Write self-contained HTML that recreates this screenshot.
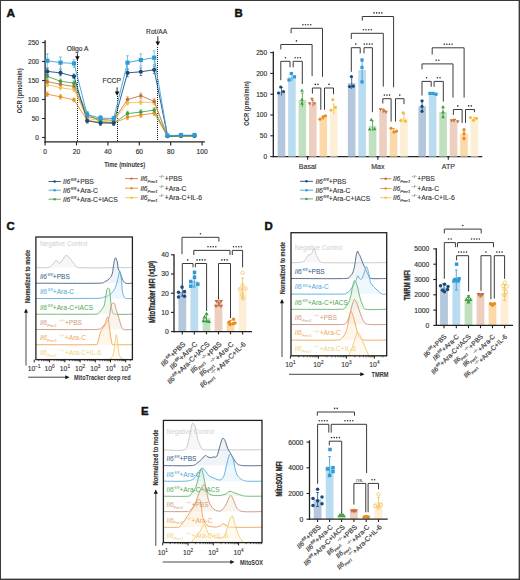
<!DOCTYPE html>
<html><head><meta charset="utf-8"><style>
html,body{margin:0;padding:0;background:#fff;}
body{width:520px;height:580px;position:relative;overflow:hidden;font-family:"Liberation Sans", sans-serif;}
</style></head><body>
<svg width="520" height="580" viewBox="0 0 520 580" style="position:absolute;left:0;top:0;font-family:'Liberation Sans', sans-serif"><rect x="0.00" y="0.00" width="520.00" height="580.00" fill="#ffffff"/><text x="6.50" y="16.80" font-size="11.8" text-anchor="start" fill="#111" font-weight="bold" font-style="normal" stroke="#111" stroke-width="0.45">A</text><text x="234.60" y="16.80" font-size="11.4" text-anchor="start" fill="#111" font-weight="bold" font-style="normal" stroke="#111" stroke-width="0.45">B</text><text x="6.40" y="230.30" font-size="11.4" text-anchor="start" fill="#111" font-weight="bold" font-style="normal" stroke="#111" stroke-width="0.45">C</text><text x="264.60" y="229.80" font-size="11.4" text-anchor="start" fill="#111" font-weight="bold" font-style="normal" stroke="#111" stroke-width="0.45">D</text><text x="141.00" y="414.50" font-size="11.4" text-anchor="start" fill="#111" font-weight="bold" font-style="normal" stroke="#111" stroke-width="0.45">E</text><line x1="45.10" y1="40.20" x2="45.10" y2="142.50" stroke="#222" stroke-width="1.3"/><line x1="44.50" y1="141.90" x2="204.80" y2="141.90" stroke="#222" stroke-width="1.3"/><line x1="42.10" y1="137.50" x2="45.10" y2="137.50" stroke="#222" stroke-width="1.1"/><text x="39.00" y="139.90" font-size="6.6" text-anchor="end" fill="#333" font-weight="normal" font-style="normal" stroke="#333" stroke-width="0.15">0</text><line x1="42.10" y1="118.50" x2="45.10" y2="118.50" stroke="#222" stroke-width="1.1"/><text x="39.00" y="120.90" font-size="6.6" text-anchor="end" fill="#333" font-weight="normal" font-style="normal" stroke="#333" stroke-width="0.15">50</text><line x1="42.10" y1="99.50" x2="45.10" y2="99.50" stroke="#222" stroke-width="1.1"/><text x="39.00" y="101.90" font-size="6.6" text-anchor="end" fill="#333" font-weight="normal" font-style="normal" stroke="#333" stroke-width="0.15">100</text><line x1="42.10" y1="80.50" x2="45.10" y2="80.50" stroke="#222" stroke-width="1.1"/><text x="39.00" y="82.90" font-size="6.6" text-anchor="end" fill="#333" font-weight="normal" font-style="normal" stroke="#333" stroke-width="0.15">150</text><line x1="42.10" y1="61.50" x2="45.10" y2="61.50" stroke="#222" stroke-width="1.1"/><text x="39.00" y="63.90" font-size="6.6" text-anchor="end" fill="#333" font-weight="normal" font-style="normal" stroke="#333" stroke-width="0.15">200</text><line x1="42.10" y1="42.50" x2="45.10" y2="42.50" stroke="#222" stroke-width="1.1"/><text x="39.00" y="44.90" font-size="6.6" text-anchor="end" fill="#333" font-weight="normal" font-style="normal" stroke="#333" stroke-width="0.15">250</text><line x1="45.10" y1="141.90" x2="45.10" y2="145.40" stroke="#222" stroke-width="1.1"/><text x="45.10" y="154.00" font-size="6.6" text-anchor="middle" fill="#333" font-weight="normal" font-style="normal" stroke="#333" stroke-width="0.15">0</text><line x1="76.50" y1="141.90" x2="76.50" y2="145.40" stroke="#222" stroke-width="1.1"/><text x="76.50" y="154.00" font-size="6.6" text-anchor="middle" fill="#333" font-weight="normal" font-style="normal" stroke="#333" stroke-width="0.15">20</text><line x1="107.90" y1="141.90" x2="107.90" y2="145.40" stroke="#222" stroke-width="1.1"/><text x="107.90" y="154.00" font-size="6.6" text-anchor="middle" fill="#333" font-weight="normal" font-style="normal" stroke="#333" stroke-width="0.15">40</text><line x1="139.30" y1="141.90" x2="139.30" y2="145.40" stroke="#222" stroke-width="1.1"/><text x="139.30" y="154.00" font-size="6.6" text-anchor="middle" fill="#333" font-weight="normal" font-style="normal" stroke="#333" stroke-width="0.15">60</text><line x1="170.70" y1="141.90" x2="170.70" y2="145.40" stroke="#222" stroke-width="1.1"/><text x="170.70" y="154.00" font-size="6.6" text-anchor="middle" fill="#333" font-weight="normal" font-style="normal" stroke="#333" stroke-width="0.15">80</text><line x1="202.10" y1="141.90" x2="202.10" y2="145.40" stroke="#222" stroke-width="1.1"/><text x="202.10" y="154.00" font-size="6.6" text-anchor="middle" fill="#333" font-weight="normal" font-style="normal" stroke="#333" stroke-width="0.15">100</text><text x="124.70" y="166.60" font-size="7.0" text-anchor="middle" fill="#333" font-weight="bold" font-style="normal" textLength="41" lengthAdjust="spacingAndGlyphs">Time (minutes)</text><text x="22.20" y="90.80" font-size="7.4" text-anchor="middle" fill="#333" font-weight="bold" font-style="normal" transform="rotate(-90 22.20 90.80)" textLength="45" lengthAdjust="spacingAndGlyphs">OCR (pmol/min)</text><path d="M77 60h1v1h-1zM77 62h1v1h-1zM77 64h1v1h-1zM77 66h1v1h-1zM77 68h1v1h-1zM77 70h1v1h-1zM77 72h1v1h-1zM77 74h1v1h-1zM77 76h1v1h-1zM77 78h1v1h-1zM77 80h1v1h-1zM77 82h1v1h-1zM77 84h1v1h-1zM77 86h1v1h-1zM77 88h1v1h-1zM77 90h1v1h-1zM77 92h1v1h-1zM77 94h1v1h-1zM77 96h1v1h-1zM77 98h1v1h-1zM77 100h1v1h-1zM77 102h1v1h-1zM77 104h1v1h-1zM77 106h1v1h-1zM77 108h1v1h-1zM77 110h1v1h-1zM77 112h1v1h-1zM77 114h1v1h-1zM77 116h1v1h-1zM77 118h1v1h-1zM77 120h1v1h-1zM77 122h1v1h-1zM77 124h1v1h-1zM77 126h1v1h-1zM77 128h1v1h-1zM77 130h1v1h-1zM77 132h1v1h-1zM77 134h1v1h-1zM77 136h1v1h-1zM77 138h1v1h-1zM77 140h1v1h-1z" fill="#1a1a1a"/><path d="M117 96h1v1h-1zM117 98h1v1h-1zM117 100h1v1h-1zM117 102h1v1h-1zM117 104h1v1h-1zM117 106h1v1h-1zM117 108h1v1h-1zM117 110h1v1h-1zM117 112h1v1h-1zM117 114h1v1h-1zM117 116h1v1h-1zM117 118h1v1h-1zM117 120h1v1h-1zM117 122h1v1h-1zM117 124h1v1h-1zM117 126h1v1h-1zM117 128h1v1h-1zM117 130h1v1h-1zM117 132h1v1h-1zM117 134h1v1h-1zM117 136h1v1h-1zM117 138h1v1h-1zM117 140h1v1h-1z" fill="#1a1a1a"/><path d="M157 47h1v1h-1zM157 49h1v1h-1zM157 51h1v1h-1zM157 53h1v1h-1zM157 55h1v1h-1zM157 57h1v1h-1zM157 59h1v1h-1zM157 61h1v1h-1zM157 63h1v1h-1zM157 65h1v1h-1zM157 67h1v1h-1zM157 69h1v1h-1zM157 71h1v1h-1zM157 73h1v1h-1zM157 75h1v1h-1zM157 77h1v1h-1zM157 79h1v1h-1zM157 81h1v1h-1zM157 83h1v1h-1zM157 85h1v1h-1zM157 87h1v1h-1zM157 89h1v1h-1zM157 91h1v1h-1zM157 93h1v1h-1zM157 95h1v1h-1zM157 97h1v1h-1zM157 99h1v1h-1zM157 101h1v1h-1zM157 103h1v1h-1zM157 105h1v1h-1zM157 107h1v1h-1zM157 109h1v1h-1zM157 111h1v1h-1zM157 113h1v1h-1zM157 115h1v1h-1zM157 117h1v1h-1zM157 119h1v1h-1zM157 121h1v1h-1zM157 123h1v1h-1zM157 125h1v1h-1zM157 127h1v1h-1zM157 129h1v1h-1zM157 131h1v1h-1zM157 133h1v1h-1zM157 135h1v1h-1zM157 137h1v1h-1zM157 139h1v1h-1z" fill="#1a1a1a"/><text x="77.60" y="51.40" font-size="7.0" text-anchor="middle" fill="#333" font-weight="normal" font-style="normal" textLength="21.5" lengthAdjust="spacingAndGlyphs" stroke="#333" stroke-width="0.15">Oligo A</text><line x1="77.40" y1="53.30" x2="77.40" y2="57.50" stroke="#111" stroke-width="0.9"/><path d="M75.10 56.30L79.70 56.30L77.40 60.50Z" fill="#111"/><text x="111.80" y="83.40" font-size="7.0" text-anchor="middle" fill="#333" font-weight="normal" font-style="normal" textLength="18.5" lengthAdjust="spacingAndGlyphs" stroke="#333" stroke-width="0.15">FCCP</text><line x1="117.10" y1="87.30" x2="117.10" y2="92.80" stroke="#111" stroke-width="0.9"/><path d="M114.80 91.60L119.40 91.60L117.10 95.80Z" fill="#111"/><text x="156.60" y="33.50" font-size="7.0" text-anchor="middle" fill="#333" font-weight="normal" font-style="normal" textLength="21" lengthAdjust="spacingAndGlyphs" stroke="#333" stroke-width="0.15">Rot/AA</text><line x1="157.80" y1="36.30" x2="157.80" y2="42.80" stroke="#111" stroke-width="0.9"/><path d="M155.50 41.60L160.10 41.60L157.80 45.80Z" fill="#111"/><path d="M45.90 91.90H48.70M47.30 91.90V96.46M45.90 96.46H48.70" stroke="#ec9428" stroke-width="0.8" fill="none" opacity="0.8"/><path d="M59.10 94.56H61.90M60.50 94.56V99.12M59.10 99.12H61.90" stroke="#ec9428" stroke-width="0.8" fill="none" opacity="0.8"/><path d="M72.60 97.98H75.40M74.00 97.98V101.78M72.60 101.78H75.40" stroke="#ec9428" stroke-width="0.8" fill="none" opacity="0.8"/><path d="M85.80 118.50H88.60M87.20 118.50V122.30M85.80 122.30H88.60" stroke="#ec9428" stroke-width="0.8" fill="none" opacity="0.8"/><path d="M99.10 120.40H101.90M100.50 120.40V124.20M99.10 124.20H101.90" stroke="#ec9428" stroke-width="0.8" fill="none" opacity="0.8"/><path d="M112.30 121.16H115.10M113.70 121.16V124.96M112.30 124.96H115.10" stroke="#ec9428" stroke-width="0.8" fill="none" opacity="0.8"/><path d="M126.10 115.08H128.90M127.50 115.08V119.64M126.10 119.64H128.90" stroke="#ec9428" stroke-width="0.8" fill="none" opacity="0.8"/><path d="M139.40 112.80H142.20M140.80 112.80V117.36M139.40 117.36H142.20" stroke="#ec9428" stroke-width="0.8" fill="none" opacity="0.8"/><path d="M152.80 110.90H155.60M154.20 110.90V115.46M152.80 115.46H155.60" stroke="#ec9428" stroke-width="0.8" fill="none" opacity="0.8"/><path d="M166.10 135.60H168.90M167.50 135.60V137.12M166.10 137.12H168.90" stroke="#ec9428" stroke-width="0.8" fill="none" opacity="0.8"/><path d="M179.60 135.60H182.40M181.00 135.60V137.12M179.60 137.12H182.40" stroke="#ec9428" stroke-width="0.8" fill="none" opacity="0.8"/><path d="M193.10 135.22H195.90M194.50 135.22V136.74M193.10 136.74H195.90" stroke="#ec9428" stroke-width="0.8" fill="none" opacity="0.8"/><path d="M45.90 82.40H48.70M47.30 82.40V86.96M45.90 86.96H48.70" stroke="#f3c450" stroke-width="0.8" fill="none" opacity="0.8"/><path d="M59.10 85.44H61.90M60.50 85.44V90.00M59.10 90.00H61.90" stroke="#f3c450" stroke-width="0.8" fill="none" opacity="0.8"/><path d="M72.60 87.72H75.40M74.00 87.72V91.52M72.60 91.52H75.40" stroke="#f3c450" stroke-width="0.8" fill="none" opacity="0.8"/><path d="M85.80 116.60H88.60M87.20 116.60V120.40M85.80 120.40H88.60" stroke="#f3c450" stroke-width="0.8" fill="none" opacity="0.8"/><path d="M99.10 118.50H101.90M100.50 118.50V122.30M99.10 122.30H101.90" stroke="#f3c450" stroke-width="0.8" fill="none" opacity="0.8"/><path d="M112.30 119.64H115.10M113.70 119.64V123.44M112.30 123.44H115.10" stroke="#f3c450" stroke-width="0.8" fill="none" opacity="0.8"/><path d="M126.10 100.64H128.90M127.50 100.64V105.20M126.10 105.20H128.90" stroke="#f3c450" stroke-width="0.8" fill="none" opacity="0.8"/><path d="M139.40 99.88H142.20M140.80 99.88V104.44M139.40 104.44H142.20" stroke="#f3c450" stroke-width="0.8" fill="none" opacity="0.8"/><path d="M152.80 100.26H155.60M154.20 100.26V104.82M152.80 104.82H155.60" stroke="#f3c450" stroke-width="0.8" fill="none" opacity="0.8"/><path d="M166.10 135.60H168.90M167.50 135.60V137.12M166.10 137.12H168.90" stroke="#f3c450" stroke-width="0.8" fill="none" opacity="0.8"/><path d="M179.60 135.22H182.40M181.00 135.22V136.74M179.60 136.74H182.40" stroke="#f3c450" stroke-width="0.8" fill="none" opacity="0.8"/><path d="M193.10 135.22H195.90M194.50 135.22V136.74M193.10 136.74H195.90" stroke="#f3c450" stroke-width="0.8" fill="none" opacity="0.8"/><path d="M45.90 79.36H48.70M47.30 79.36V83.92M45.90 83.92H48.70" stroke="#c67a48" stroke-width="0.8" fill="none" opacity="0.8"/><path d="M59.10 82.02H61.90M60.50 82.02V86.58M59.10 86.58H61.90" stroke="#c67a48" stroke-width="0.8" fill="none" opacity="0.8"/><path d="M72.60 84.68H75.40M74.00 84.68V88.48M72.60 88.48H75.40" stroke="#c67a48" stroke-width="0.8" fill="none" opacity="0.8"/><path d="M85.80 114.70H88.60M87.20 114.70V118.50M85.80 118.50H88.60" stroke="#c67a48" stroke-width="0.8" fill="none" opacity="0.8"/><path d="M99.10 117.36H101.90M100.50 117.36V121.16M99.10 121.16H101.90" stroke="#c67a48" stroke-width="0.8" fill="none" opacity="0.8"/><path d="M112.30 118.50H115.10M113.70 118.50V122.30M112.30 122.30H115.10" stroke="#c67a48" stroke-width="0.8" fill="none" opacity="0.8"/><path d="M126.10 96.84H128.90M127.50 96.84V102.16M126.10 102.16H128.90" stroke="#c67a48" stroke-width="0.8" fill="none" opacity="0.8"/><path d="M139.40 93.04H142.20M140.80 93.04V98.36M139.40 98.36H142.20" stroke="#c67a48" stroke-width="0.8" fill="none" opacity="0.8"/><path d="M152.80 98.74H155.60M154.20 98.74V104.06M152.80 104.06H155.60" stroke="#c67a48" stroke-width="0.8" fill="none" opacity="0.8"/><path d="M166.10 135.60H168.90M167.50 135.60V137.12M166.10 137.12H168.90" stroke="#c67a48" stroke-width="0.8" fill="none" opacity="0.8"/><path d="M179.60 135.22H182.40M181.00 135.22V136.74M179.60 136.74H182.40" stroke="#c67a48" stroke-width="0.8" fill="none" opacity="0.8"/><path d="M193.10 135.22H195.90M194.50 135.22V136.74M193.10 136.74H195.90" stroke="#c67a48" stroke-width="0.8" fill="none" opacity="0.8"/><path d="M45.90 74.04H48.70M47.30 74.04V78.60M45.90 78.60H48.70" stroke="#4ca94f" stroke-width="0.8" fill="none" opacity="0.8"/><path d="M59.10 78.98H61.90M60.50 78.98V83.54M59.10 83.54H61.90" stroke="#4ca94f" stroke-width="0.8" fill="none" opacity="0.8"/><path d="M72.60 80.88H75.40M74.00 80.88V85.44M72.60 85.44H75.40" stroke="#4ca94f" stroke-width="0.8" fill="none" opacity="0.8"/><path d="M85.80 112.04H88.60M87.20 112.04V115.84M85.80 115.84H88.60" stroke="#4ca94f" stroke-width="0.8" fill="none" opacity="0.8"/><path d="M99.10 119.64H101.90M100.50 119.64V123.44M99.10 123.44H101.90" stroke="#4ca94f" stroke-width="0.8" fill="none" opacity="0.8"/><path d="M112.30 121.16H115.10M113.70 121.16V124.96M112.30 124.96H115.10" stroke="#4ca94f" stroke-width="0.8" fill="none" opacity="0.8"/><path d="M126.10 111.28H128.90M127.50 111.28V115.84M126.10 115.84H128.90" stroke="#4ca94f" stroke-width="0.8" fill="none" opacity="0.8"/><path d="M139.40 109.76H142.20M140.80 109.76V114.32M139.40 114.32H142.20" stroke="#4ca94f" stroke-width="0.8" fill="none" opacity="0.8"/><path d="M152.80 107.86H155.60M154.20 107.86V112.42M152.80 112.42H155.60" stroke="#4ca94f" stroke-width="0.8" fill="none" opacity="0.8"/><path d="M166.10 135.60H168.90M167.50 135.60V137.12M166.10 137.12H168.90" stroke="#4ca94f" stroke-width="0.8" fill="none" opacity="0.8"/><path d="M179.60 135.22H182.40M181.00 135.22V136.74M179.60 136.74H182.40" stroke="#4ca94f" stroke-width="0.8" fill="none" opacity="0.8"/><path d="M193.10 135.22H195.90M194.50 135.22V136.74M193.10 136.74H195.90" stroke="#4ca94f" stroke-width="0.8" fill="none" opacity="0.8"/><path d="M45.90 68.34H48.70M47.30 68.34V74.42M45.90 74.42H48.70" stroke="#1d4f7c" stroke-width="0.8" fill="none" opacity="0.8"/><path d="M59.10 69.86H61.90M60.50 69.86V75.94M59.10 75.94H61.90" stroke="#1d4f7c" stroke-width="0.8" fill="none" opacity="0.8"/><path d="M72.60 74.04H75.40M74.00 74.04V78.60M72.60 78.60H75.40" stroke="#1d4f7c" stroke-width="0.8" fill="none" opacity="0.8"/><path d="M85.80 118.50H88.60M87.20 118.50V123.06M85.80 123.06H88.60" stroke="#1d4f7c" stroke-width="0.8" fill="none" opacity="0.8"/><path d="M99.10 120.78H101.90M100.50 120.78V125.34M99.10 125.34H101.90" stroke="#1d4f7c" stroke-width="0.8" fill="none" opacity="0.8"/><path d="M112.30 120.78H115.10M113.70 120.78V125.34M112.30 125.34H115.10" stroke="#1d4f7c" stroke-width="0.8" fill="none" opacity="0.8"/><path d="M126.10 69.10H128.90M127.50 69.10V76.70M126.10 76.70H128.90" stroke="#1d4f7c" stroke-width="0.8" fill="none" opacity="0.8"/><path d="M139.40 67.96H142.20M140.80 67.96V75.56M139.40 75.56H142.20" stroke="#1d4f7c" stroke-width="0.8" fill="none" opacity="0.8"/><path d="M152.80 66.06H155.60M154.20 66.06V73.66M152.80 73.66H155.60" stroke="#1d4f7c" stroke-width="0.8" fill="none" opacity="0.8"/><path d="M166.10 134.84H168.90M167.50 134.84V137.12M166.10 137.12H168.90" stroke="#1d4f7c" stroke-width="0.8" fill="none" opacity="0.8"/><path d="M179.60 134.08H182.40M181.00 134.08V137.12M179.60 137.12H182.40" stroke="#1d4f7c" stroke-width="0.8" fill="none" opacity="0.8"/><path d="M193.10 134.08H195.90M194.50 134.08V137.12M193.10 137.12H195.90" stroke="#1d4f7c" stroke-width="0.8" fill="none" opacity="0.8"/><path d="M45.90 53.90H48.70M47.30 53.90V67.58M45.90 67.58H48.70" stroke="#36a2db" stroke-width="0.8" fill="none" opacity="0.8"/><path d="M59.10 56.94H61.90M60.50 56.94V68.34M59.10 68.34H61.90" stroke="#36a2db" stroke-width="0.8" fill="none" opacity="0.8"/><path d="M72.60 59.60H75.40M74.00 59.60V67.20M72.60 67.20H75.40" stroke="#36a2db" stroke-width="0.8" fill="none" opacity="0.8"/><path d="M85.80 111.66H88.60M87.20 111.66V117.74M85.80 117.74H88.60" stroke="#36a2db" stroke-width="0.8" fill="none" opacity="0.8"/><path d="M99.10 115.46H101.90M100.50 115.46V120.78M99.10 120.78H101.90" stroke="#36a2db" stroke-width="0.8" fill="none" opacity="0.8"/><path d="M112.30 116.22H115.10M113.70 116.22V120.78M112.30 120.78H115.10" stroke="#36a2db" stroke-width="0.8" fill="none" opacity="0.8"/><path d="M126.10 55.80H128.90M127.50 55.80V69.48M126.10 69.48H128.90" stroke="#36a2db" stroke-width="0.8" fill="none" opacity="0.8"/><path d="M139.40 53.90H142.20M140.80 53.90V66.06M139.40 66.06H142.20" stroke="#36a2db" stroke-width="0.8" fill="none" opacity="0.8"/><path d="M152.80 50.86H155.60M154.20 50.86V64.54M152.80 64.54H155.60" stroke="#36a2db" stroke-width="0.8" fill="none" opacity="0.8"/><path d="M166.10 134.46H168.90M167.50 134.46V136.74M166.10 136.74H168.90" stroke="#36a2db" stroke-width="0.8" fill="none" opacity="0.8"/><path d="M179.60 133.32H182.40M181.00 133.32V137.12M179.60 137.12H182.40" stroke="#36a2db" stroke-width="0.8" fill="none" opacity="0.8"/><path d="M193.10 133.32H195.90M194.50 133.32V137.12M193.10 137.12H195.90" stroke="#36a2db" stroke-width="0.8" fill="none" opacity="0.8"/><polyline points="47.30,94.18 60.50,96.84 74.00,99.88 87.20,120.40 100.50,122.30 113.70,123.06 127.50,117.36 140.80,115.08 154.20,113.18 167.50,136.36 181.00,136.36 194.50,135.98" fill="none" stroke="#ec9428" stroke-width="0.9"/><circle cx="47.30" cy="94.18" r="1.80" fill="#ea8d1c"/><circle cx="60.50" cy="96.84" r="1.80" fill="#ea8d1c"/><circle cx="74.00" cy="99.88" r="1.80" fill="#ea8d1c"/><circle cx="87.20" cy="120.40" r="1.80" fill="#ea8d1c"/><circle cx="100.50" cy="122.30" r="1.80" fill="#ea8d1c"/><circle cx="113.70" cy="123.06" r="1.80" fill="#ea8d1c"/><circle cx="127.50" cy="117.36" r="1.80" fill="#ea8d1c"/><circle cx="140.80" cy="115.08" r="1.80" fill="#ea8d1c"/><circle cx="154.20" cy="113.18" r="1.80" fill="#ea8d1c"/><circle cx="167.50" cy="136.36" r="1.80" fill="#ea8d1c"/><circle cx="181.00" cy="136.36" r="1.80" fill="#ea8d1c"/><circle cx="194.50" cy="135.98" r="1.80" fill="#ea8d1c"/><polyline points="47.30,84.68 60.50,87.72 74.00,89.62 87.20,118.50 100.50,120.40 113.70,121.54 127.50,102.92 140.80,102.16 154.20,102.54 167.50,136.36 181.00,135.98 194.50,135.98" fill="none" stroke="#f3c450" stroke-width="0.9"/><circle cx="47.30" cy="84.68" r="1.80" fill="#f2bf3c"/><circle cx="60.50" cy="87.72" r="1.80" fill="#f2bf3c"/><circle cx="74.00" cy="89.62" r="1.80" fill="#f2bf3c"/><circle cx="87.20" cy="118.50" r="1.80" fill="#f2bf3c"/><circle cx="100.50" cy="120.40" r="1.80" fill="#f2bf3c"/><circle cx="113.70" cy="121.54" r="1.80" fill="#f2bf3c"/><circle cx="127.50" cy="102.92" r="1.80" fill="#f2bf3c"/><circle cx="140.80" cy="102.16" r="1.80" fill="#f2bf3c"/><circle cx="154.20" cy="102.54" r="1.80" fill="#f2bf3c"/><circle cx="167.50" cy="136.36" r="1.80" fill="#f2bf3c"/><circle cx="181.00" cy="135.98" r="1.80" fill="#f2bf3c"/><circle cx="194.50" cy="135.98" r="1.80" fill="#f2bf3c"/><polyline points="47.30,81.64 60.50,84.30 74.00,86.58 87.20,116.60 100.50,119.26 113.70,120.40 127.50,99.50 140.80,95.70 154.20,101.40 167.50,136.36 181.00,135.98 194.50,135.98" fill="none" stroke="#c67a48" stroke-width="0.9"/><circle cx="47.30" cy="81.64" r="1.80" fill="#c27040"/><circle cx="60.50" cy="84.30" r="1.80" fill="#c27040"/><circle cx="74.00" cy="86.58" r="1.80" fill="#c27040"/><circle cx="87.20" cy="116.60" r="1.80" fill="#c27040"/><circle cx="100.50" cy="119.26" r="1.80" fill="#c27040"/><circle cx="113.70" cy="120.40" r="1.80" fill="#c27040"/><circle cx="127.50" cy="99.50" r="1.80" fill="#c27040"/><circle cx="140.80" cy="95.70" r="1.80" fill="#c27040"/><circle cx="154.20" cy="101.40" r="1.80" fill="#c27040"/><circle cx="167.50" cy="136.36" r="1.80" fill="#c27040"/><circle cx="181.00" cy="135.98" r="1.80" fill="#c27040"/><circle cx="194.50" cy="135.98" r="1.80" fill="#c27040"/><polyline points="47.30,76.32 60.50,81.26 74.00,83.16 87.20,113.94 100.50,121.54 113.70,123.06 127.50,113.56 140.80,112.04 154.20,110.14 167.50,136.36 181.00,135.98 194.50,135.98" fill="none" stroke="#4ca94f" stroke-width="0.9"/><circle cx="47.30" cy="76.32" r="1.80" fill="#3f9f45"/><circle cx="60.50" cy="81.26" r="1.80" fill="#3f9f45"/><circle cx="74.00" cy="83.16" r="1.80" fill="#3f9f45"/><circle cx="87.20" cy="113.94" r="1.80" fill="#3f9f45"/><circle cx="100.50" cy="121.54" r="1.80" fill="#3f9f45"/><circle cx="113.70" cy="123.06" r="1.80" fill="#3f9f45"/><circle cx="127.50" cy="113.56" r="1.80" fill="#3f9f45"/><circle cx="140.80" cy="112.04" r="1.80" fill="#3f9f45"/><circle cx="154.20" cy="110.14" r="1.80" fill="#3f9f45"/><circle cx="167.50" cy="136.36" r="1.80" fill="#3f9f45"/><circle cx="181.00" cy="135.98" r="1.80" fill="#3f9f45"/><circle cx="194.50" cy="135.98" r="1.80" fill="#3f9f45"/><polyline points="47.30,71.38 60.50,72.90 74.00,76.32 87.20,120.78 100.50,123.06 113.70,123.06 127.50,72.90 140.80,71.76 154.20,69.86 167.50,135.98 181.00,135.60 194.50,135.60" fill="none" stroke="#1d4f7c" stroke-width="0.9"/><circle cx="47.30" cy="71.38" r="2.10" fill="#1a4a78"/><circle cx="60.50" cy="72.90" r="2.10" fill="#1a4a78"/><circle cx="74.00" cy="76.32" r="2.10" fill="#1a4a78"/><circle cx="87.20" cy="120.78" r="2.10" fill="#1a4a78"/><circle cx="100.50" cy="123.06" r="2.10" fill="#1a4a78"/><circle cx="113.70" cy="123.06" r="2.10" fill="#1a4a78"/><circle cx="127.50" cy="72.90" r="2.10" fill="#1a4a78"/><circle cx="140.80" cy="71.76" r="2.10" fill="#1a4a78"/><circle cx="154.20" cy="69.86" r="2.10" fill="#1a4a78"/><circle cx="167.50" cy="135.98" r="2.10" fill="#1a4a78"/><circle cx="181.00" cy="135.60" r="2.10" fill="#1a4a78"/><circle cx="194.50" cy="135.60" r="2.10" fill="#1a4a78"/><polyline points="47.30,60.74 60.50,62.64 74.00,63.40 87.20,114.70 100.50,118.12 113.70,118.50 127.50,62.64 140.80,59.98 154.20,57.70 167.50,135.60 181.00,135.22 194.50,135.22" fill="none" stroke="#36a2db" stroke-width="0.9"/><rect x="45.20" y="58.64" width="4.20" height="4.20" fill="#2f9ad6"/><rect x="58.40" y="60.54" width="4.20" height="4.20" fill="#2f9ad6"/><rect x="71.90" y="61.30" width="4.20" height="4.20" fill="#2f9ad6"/><rect x="85.10" y="112.60" width="4.20" height="4.20" fill="#2f9ad6"/><rect x="98.40" y="116.02" width="4.20" height="4.20" fill="#2f9ad6"/><rect x="111.60" y="116.40" width="4.20" height="4.20" fill="#2f9ad6"/><rect x="125.40" y="60.54" width="4.20" height="4.20" fill="#2f9ad6"/><rect x="138.70" y="57.88" width="4.20" height="4.20" fill="#2f9ad6"/><rect x="152.10" y="55.60" width="4.20" height="4.20" fill="#2f9ad6"/><rect x="165.40" y="133.50" width="4.20" height="4.20" fill="#2f9ad6"/><rect x="178.90" y="133.12" width="4.20" height="4.20" fill="#2f9ad6"/><rect x="192.40" y="133.12" width="4.20" height="4.20" fill="#2f9ad6"/><line x1="48.50" y1="181.50" x2="60.80" y2="181.50" stroke="#1d4f7c" stroke-width="0.9"/><circle cx="54.65" cy="181.50" r="1.20" fill="#1a4a78"/><text x="63.00" y="183.90" font-size="6.8" fill="#333" stroke="#333" stroke-width="0.12"><tspan font-style="italic">Il6</tspan><tspan dx="0.68" dy="-2.86" font-size="4.22" font-style="italic">fl/fl</tspan><tspan dy="2.86">+PBS</tspan></text><line x1="48.50" y1="190.20" x2="60.80" y2="190.20" stroke="#36a2db" stroke-width="0.9"/><circle cx="54.65" cy="190.20" r="1.20" fill="#2f9ad6"/><text x="63.00" y="192.60" font-size="6.8" fill="#333" stroke="#333" stroke-width="0.12"><tspan font-style="italic">Il6</tspan><tspan dx="0.68" dy="-2.86" font-size="4.22" font-style="italic">fl/fl</tspan><tspan dy="2.86">+Ara-C</tspan></text><line x1="48.50" y1="199.20" x2="60.80" y2="199.20" stroke="#4ca94f" stroke-width="0.9"/><circle cx="54.65" cy="199.20" r="1.20" fill="#3f9f45"/><text x="63.00" y="201.60" font-size="6.8" fill="#333" stroke="#333" stroke-width="0.12"><tspan font-style="italic">Il6</tspan><tspan dx="0.68" dy="-2.86" font-size="4.22" font-style="italic">fl/fl</tspan><tspan dy="2.86">+Ara-C+IACS</tspan></text><line x1="125.00" y1="178.60" x2="138.00" y2="178.60" stroke="#c67a48" stroke-width="0.9"/><circle cx="131.50" cy="178.60" r="1.20" fill="#c27040"/><text x="140.40" y="181.00" font-size="6.8" fill="#333" stroke="#333" stroke-width="0.12"><tspan font-style="italic">Il6</tspan><tspan dy="1.90" font-size="4.22" font-style="italic">Pmr1</tspan><tspan dy="-4.90" font-size="4.22" dx="1.02">−/−</tspan><tspan dy="2.99">+PBS</tspan></text><line x1="125.00" y1="188.20" x2="138.00" y2="188.20" stroke="#ec9428" stroke-width="0.9"/><circle cx="131.50" cy="188.20" r="1.20" fill="#ea8d1c"/><text x="140.40" y="190.60" font-size="6.8" fill="#333" stroke="#333" stroke-width="0.12"><tspan font-style="italic">Il6</tspan><tspan dy="1.90" font-size="4.22" font-style="italic">Pmr1</tspan><tspan dy="-4.90" font-size="4.22" dx="1.02">−/−</tspan><tspan dy="2.99">+Ara-C</tspan></text><line x1="125.00" y1="197.70" x2="138.00" y2="197.70" stroke="#f3c450" stroke-width="0.9"/><circle cx="131.50" cy="197.70" r="1.20" fill="#f2bf3c"/><text x="140.40" y="200.10" font-size="6.8" fill="#333" stroke="#333" stroke-width="0.12"><tspan font-style="italic">Il6</tspan><tspan dy="1.90" font-size="4.22" font-style="italic">Pmr1</tspan><tspan dy="-4.90" font-size="4.22" dx="1.02">−/−</tspan><tspan dy="2.99">+Ara-C+IL-6</tspan></text><line x1="273.30" y1="51.50" x2="273.30" y2="157.20" stroke="#222" stroke-width="1.3"/><line x1="272.70" y1="156.60" x2="482.30" y2="156.60" stroke="#222" stroke-width="1.3"/><line x1="270.30" y1="156.60" x2="273.30" y2="156.60" stroke="#222" stroke-width="1.1"/><text x="267.20" y="159.00" font-size="6.6" text-anchor="end" fill="#333" font-weight="normal" font-style="normal" stroke="#333" stroke-width="0.15">0</text><line x1="270.30" y1="135.80" x2="273.30" y2="135.80" stroke="#222" stroke-width="1.1"/><text x="267.20" y="138.20" font-size="6.6" text-anchor="end" fill="#333" font-weight="normal" font-style="normal" stroke="#333" stroke-width="0.15">50</text><line x1="270.30" y1="115.00" x2="273.30" y2="115.00" stroke="#222" stroke-width="1.1"/><text x="267.20" y="117.40" font-size="6.6" text-anchor="end" fill="#333" font-weight="normal" font-style="normal" stroke="#333" stroke-width="0.15">100</text><line x1="270.30" y1="94.20" x2="273.30" y2="94.20" stroke="#222" stroke-width="1.1"/><text x="267.20" y="96.60" font-size="6.6" text-anchor="end" fill="#333" font-weight="normal" font-style="normal" stroke="#333" stroke-width="0.15">150</text><line x1="270.30" y1="73.40" x2="273.30" y2="73.40" stroke="#222" stroke-width="1.1"/><text x="267.20" y="75.80" font-size="6.6" text-anchor="end" fill="#333" font-weight="normal" font-style="normal" stroke="#333" stroke-width="0.15">200</text><line x1="270.30" y1="52.60" x2="273.30" y2="52.60" stroke="#222" stroke-width="1.1"/><text x="267.20" y="55.00" font-size="6.6" text-anchor="end" fill="#333" font-weight="normal" font-style="normal" stroke="#333" stroke-width="0.15">250</text><text x="248.90" y="103.50" font-size="7.6" text-anchor="middle" fill="#333" font-weight="bold" font-style="normal" transform="rotate(-90 248.90 103.50)" textLength="44.5" lengthAdjust="spacingAndGlyphs">OCR (pmol/min)</text><line x1="307.60" y1="156.60" x2="307.60" y2="159.80" stroke="#222" stroke-width="1.1"/><text x="307.60" y="169.00" font-size="7.0" text-anchor="middle" fill="#333" font-weight="normal" font-style="normal" stroke="#333" stroke-width="0.15">Basal</text><line x1="377.80" y1="156.60" x2="377.80" y2="159.80" stroke="#222" stroke-width="1.1"/><text x="377.80" y="169.00" font-size="7.0" text-anchor="middle" fill="#333" font-weight="normal" font-style="normal" stroke="#333" stroke-width="0.15">Max</text><line x1="448.30" y1="156.60" x2="448.30" y2="159.80" stroke="#222" stroke-width="1.1"/><text x="448.30" y="169.00" font-size="7.0" text-anchor="middle" fill="#333" font-weight="normal" font-style="normal" stroke="#333" stroke-width="0.15">ATP</text><rect x="277.68" y="91.50" width="7.60" height="65.10" fill="#b4c7dc"/><rect x="288.12" y="77.00" width="7.60" height="79.60" fill="#b9dcf1"/><rect x="298.57" y="100.00" width="7.60" height="56.60" fill="#c0e0bf"/><rect x="309.03" y="103.50" width="7.60" height="53.10" fill="#eccfbf"/><rect x="319.48" y="117.80" width="7.60" height="38.80" fill="#fdd8a8"/><rect x="329.93" y="109.00" width="7.60" height="47.60" fill="#fdefd6"/><path d="M280.18 87.50H282.78M281.48 87.50V95.50" stroke="#1a4a78" stroke-width="0.8" fill="none"/><circle cx="280.70" cy="87.00" r="1.60" fill="#1a4a78"/><circle cx="278.50" cy="93.00" r="1.60" fill="#1a4a78"/><circle cx="283.50" cy="91.60" r="1.60" fill="#1a4a78"/><path d="M290.62 73.00H293.23M291.93 73.00V81.00" stroke="#2f9ad6" stroke-width="0.8" fill="none"/><rect x="289.70" y="71.90" width="3.20" height="3.20" fill="#2f9ad6"/><rect x="287.40" y="78.40" width="3.20" height="3.20" fill="#2f9ad6"/><rect x="292.90" y="75.20" width="3.20" height="3.20" fill="#2f9ad6"/><path d="M301.07 93.00H303.68M302.38 93.00V107.00" stroke="#3f9f45" stroke-width="0.8" fill="none"/><path d="M302.00 88.38L303.84 91.66L300.16 91.66Z" fill="#3f9f45"/><path d="M302.00 97.38L303.84 100.66L300.16 100.66Z" fill="#3f9f45"/><path d="M302.00 101.38L303.84 104.66L300.16 104.66Z" fill="#3f9f45"/><path d="M311.53 100.50H314.13M312.83 100.50V106.50" stroke="#c27040" stroke-width="0.8" fill="none"/><path d="M312.00 100.92L313.84 97.64L310.16 97.64Z" fill="#c27040"/><path d="M309.70 105.62L311.54 102.34L307.86 102.34Z" fill="#c27040"/><path d="M314.50 105.62L316.34 102.34L312.66 102.34Z" fill="#c27040"/><path d="M321.98 115.80H324.58M323.28 115.80V119.80" stroke="#ea8d1c" stroke-width="0.8" fill="none"/><circle cx="320.00" cy="119.20" r="1.60" fill="#ea8d1c"/><circle cx="323.00" cy="117.20" r="1.60" fill="#ea8d1c"/><circle cx="325.50" cy="115.90" r="1.60" fill="#ea8d1c"/><path d="M332.43 104.00H335.03M333.73 104.00V114.00" stroke="#f2bf3c" stroke-width="0.8" fill="none"/><circle cx="332.80" cy="99.70" r="1.60" fill="#f2bf3c"/><circle cx="331.00" cy="110.00" r="1.60" fill="#f2bf3c"/><circle cx="335.40" cy="107.40" r="1.60" fill="#f2bf3c"/><rect x="347.88" y="83.00" width="7.60" height="73.60" fill="#b4c7dc"/><rect x="358.32" y="70.00" width="7.60" height="86.60" fill="#b9dcf1"/><rect x="368.77" y="126.00" width="7.60" height="30.60" fill="#c0e0bf"/><rect x="379.23" y="111.00" width="7.60" height="45.60" fill="#eccfbf"/><rect x="389.68" y="130.50" width="7.60" height="26.10" fill="#fdd8a8"/><rect x="400.12" y="118.00" width="7.60" height="38.60" fill="#fdefd6"/><path d="M350.38 77.00H352.98M351.68 77.00V89.00" stroke="#1a4a78" stroke-width="0.8" fill="none"/><circle cx="351.40" cy="76.50" r="1.60" fill="#1a4a78"/><circle cx="349.50" cy="86.60" r="1.60" fill="#1a4a78"/><circle cx="353.30" cy="86.20" r="1.60" fill="#1a4a78"/><path d="M360.82 59.00H363.43M362.12 59.00V81.00" stroke="#2f9ad6" stroke-width="0.8" fill="none"/><rect x="360.40" y="58.50" width="3.20" height="3.20" fill="#2f9ad6"/><rect x="360.40" y="65.80" width="3.20" height="3.20" fill="#2f9ad6"/><rect x="360.40" y="80.30" width="3.20" height="3.20" fill="#2f9ad6"/><path d="M371.27 121.00H373.88M372.57 121.00V131.00" stroke="#3f9f45" stroke-width="0.8" fill="none"/><path d="M371.30 117.68L373.14 120.96L369.46 120.96Z" fill="#3f9f45"/><path d="M369.60 127.28L371.44 130.56L367.76 130.56Z" fill="#3f9f45"/><path d="M374.60 126.88L376.44 130.16L372.76 130.16Z" fill="#3f9f45"/><path d="M381.73 109.00H384.33M383.03 109.00V113.00" stroke="#c27040" stroke-width="0.8" fill="none"/><path d="M380.50 111.42L382.34 108.14L378.66 108.14Z" fill="#c27040"/><path d="M384.00 112.82L385.84 109.54L382.16 109.54Z" fill="#c27040"/><path d="M386.00 114.12L387.84 110.84L384.16 110.84Z" fill="#c27040"/><path d="M392.18 128.50H394.78M393.48 128.50V132.50" stroke="#ea8d1c" stroke-width="0.8" fill="none"/><circle cx="391.00" cy="128.30" r="1.60" fill="#ea8d1c"/><circle cx="394.00" cy="132.10" r="1.60" fill="#ea8d1c"/><circle cx="396.50" cy="131.20" r="1.60" fill="#ea8d1c"/><path d="M402.62 114.00H405.23M403.93 114.00V122.00" stroke="#f2bf3c" stroke-width="0.8" fill="none"/><circle cx="403.20" cy="112.90" r="1.60" fill="#f2bf3c"/><circle cx="400.80" cy="120.60" r="1.60" fill="#f2bf3c"/><circle cx="405.50" cy="121.20" r="1.60" fill="#f2bf3c"/><rect x="418.38" y="106.30" width="7.60" height="50.30" fill="#b4c7dc"/><rect x="428.82" y="94.00" width="7.60" height="62.60" fill="#b9dcf1"/><rect x="439.27" y="112.00" width="7.60" height="44.60" fill="#c0e0bf"/><rect x="449.73" y="121.00" width="7.60" height="35.60" fill="#eccfbf"/><rect x="460.18" y="134.00" width="7.60" height="22.60" fill="#fdd8a8"/><rect x="470.62" y="119.00" width="7.60" height="37.60" fill="#fdefd6"/><path d="M420.88 101.30H423.48M422.18 101.30V111.30" stroke="#1a4a78" stroke-width="0.8" fill="none"/><circle cx="422.00" cy="100.80" r="1.60" fill="#1a4a78"/><circle cx="422.00" cy="106.40" r="1.60" fill="#1a4a78"/><circle cx="422.00" cy="111.30" r="1.60" fill="#1a4a78"/><path d="M431.32 93.00H433.93M432.62 93.00V95.00" stroke="#2f9ad6" stroke-width="0.8" fill="none"/><rect x="428.40" y="91.80" width="3.20" height="3.20" fill="#2f9ad6"/><rect x="431.40" y="91.80" width="3.20" height="3.20" fill="#2f9ad6"/><rect x="434.40" y="92.60" width="3.20" height="3.20" fill="#2f9ad6"/><path d="M441.77 107.00H444.38M443.07 107.00V117.00" stroke="#3f9f45" stroke-width="0.8" fill="none"/><path d="M443.00 104.88L444.84 108.16L441.16 108.16Z" fill="#3f9f45"/><path d="M443.00 110.28L444.84 113.56L441.16 113.56Z" fill="#3f9f45"/><path d="M443.00 114.98L444.84 118.26L441.16 118.26Z" fill="#3f9f45"/><path d="M452.23 120.00H454.83M453.53 120.00V122.00" stroke="#c27040" stroke-width="0.8" fill="none"/><path d="M451.50 122.62L453.34 119.34L449.66 119.34Z" fill="#c27040"/><path d="M454.50 121.92L456.34 118.64L452.66 118.64Z" fill="#c27040"/><path d="M457.80 123.52L459.64 120.24L455.96 120.24Z" fill="#c27040"/><path d="M462.68 130.00H465.28M463.98 130.00V138.00" stroke="#ea8d1c" stroke-width="0.8" fill="none"/><circle cx="464.00" cy="129.70" r="1.60" fill="#ea8d1c"/><circle cx="464.00" cy="133.70" r="1.60" fill="#ea8d1c"/><circle cx="464.00" cy="138.70" r="1.60" fill="#ea8d1c"/><path d="M473.12 117.50H475.73M474.43 117.50V120.50" stroke="#f2bf3c" stroke-width="0.8" fill="none"/><circle cx="470.50" cy="117.60" r="1.60" fill="#f2bf3c"/><circle cx="473.50" cy="120.30" r="1.60" fill="#f2bf3c"/><circle cx="476.50" cy="118.30" r="1.60" fill="#f2bf3c"/><path d="M291.10 33.30V28.30H322.50V76.80" fill="none" stroke="#3a3a3a" stroke-width="1"/><g fill="#333"><circle cx="302.90" cy="24.70" r="0.8"/><circle cx="305.50" cy="24.70" r="0.8"/><circle cx="308.10" cy="24.70" r="0.8"/><circle cx="310.70" cy="24.70" r="0.8"/></g><path d="M280.80 49.40V44.50H312.10V76.20" fill="none" stroke="#3a3a3a" stroke-width="1"/><g fill="#333"><circle cx="296.45" cy="40.90" r="0.8"/></g><path d="M280.80 80.20V61.30H290.00V67.30" fill="none" stroke="#3a3a3a" stroke-width="1"/><g fill="#333"><circle cx="285.40" cy="57.70" r="0.8"/></g><path d="M293.20 67.30V61.30H302.30V84.00" fill="none" stroke="#3a3a3a" stroke-width="1"/><g fill="#333"><circle cx="295.15" cy="57.70" r="0.8"/><circle cx="297.75" cy="57.70" r="0.8"/><circle cx="300.35" cy="57.70" r="0.8"/></g><path d="M312.40 93.60V88.00H320.80V109.80" fill="none" stroke="#3a3a3a" stroke-width="1"/><g fill="#333"><circle cx="315.30" cy="84.40" r="0.8"/><circle cx="317.90" cy="84.40" r="0.8"/></g><path d="M324.50 109.80V88.00H333.50V94.30" fill="none" stroke="#3a3a3a" stroke-width="1"/><g fill="#333"><circle cx="329.00" cy="84.40" r="0.8"/></g><path d="M362.30 20.60V16.50H393.60V87.30" fill="none" stroke="#3a3a3a" stroke-width="1"/><g fill="#333"><circle cx="374.05" cy="12.90" r="0.8"/><circle cx="376.65" cy="12.90" r="0.8"/><circle cx="379.25" cy="12.90" r="0.8"/><circle cx="381.85" cy="12.90" r="0.8"/></g><path d="M351.30 39.00V33.30H383.30V86.60" fill="none" stroke="#3a3a3a" stroke-width="1"/><g fill="#333"><circle cx="363.40" cy="29.70" r="0.8"/><circle cx="366.00" cy="29.70" r="0.8"/><circle cx="368.60" cy="29.70" r="0.8"/><circle cx="371.20" cy="29.70" r="0.8"/></g><path d="M351.30 71.80V47.70H360.20V53.40" fill="none" stroke="#3a3a3a" stroke-width="1"/><g fill="#333"><circle cx="355.75" cy="44.10" r="0.8"/></g><path d="M364.00 53.40V47.70H372.40V112.20" fill="none" stroke="#3a3a3a" stroke-width="1"/><g fill="#333"><circle cx="364.30" cy="44.10" r="0.8"/><circle cx="366.90" cy="44.10" r="0.8"/><circle cx="369.50" cy="44.10" r="0.8"/><circle cx="372.10" cy="44.10" r="0.8"/></g><path d="M382.80 103.50V98.70H391.10V121.60" fill="none" stroke="#3a3a3a" stroke-width="1"/><g fill="#333"><circle cx="384.35" cy="95.10" r="0.8"/><circle cx="386.95" cy="95.10" r="0.8"/><circle cx="389.55" cy="95.10" r="0.8"/></g><path d="M395.50 121.60V98.70H404.00V104.10" fill="none" stroke="#3a3a3a" stroke-width="1"/><g fill="#333"><circle cx="399.75" cy="95.10" r="0.8"/></g><path d="M432.20 54.50V47.80H464.10V97.60" fill="none" stroke="#3a3a3a" stroke-width="1"/><g fill="#333"><circle cx="444.25" cy="44.20" r="0.8"/><circle cx="446.85" cy="44.20" r="0.8"/><circle cx="449.45" cy="44.20" r="0.8"/><circle cx="452.05" cy="44.20" r="0.8"/></g><path d="M422.00 69.30V63.90H453.00V97.60" fill="none" stroke="#3a3a3a" stroke-width="1"/><g fill="#333"><circle cx="436.20" cy="60.30" r="0.8"/><circle cx="438.80" cy="60.30" r="0.8"/></g><path d="M422.00 95.60V81.40H431.20V86.80" fill="none" stroke="#3a3a3a" stroke-width="1"/><g fill="#333"><circle cx="426.60" cy="77.80" r="0.8"/></g><path d="M434.10 86.80V81.40H443.30V101.60" fill="none" stroke="#3a3a3a" stroke-width="1"/><g fill="#333"><circle cx="437.40" cy="77.80" r="0.8"/><circle cx="440.00" cy="77.80" r="0.8"/></g><path d="M453.40 114.90V109.50H462.10V123.00" fill="none" stroke="#3a3a3a" stroke-width="1"/><g fill="#333"><circle cx="457.75" cy="105.90" r="0.8"/></g><path d="M465.50 123.00V109.50H474.50V112.20" fill="none" stroke="#3a3a3a" stroke-width="1"/><g fill="#333"><circle cx="468.70" cy="105.90" r="0.8"/><circle cx="471.30" cy="105.90" r="0.8"/></g><line x1="300.00" y1="181.30" x2="313.00" y2="181.30" stroke="#1d4f7c" stroke-width="0.9"/><circle cx="306.50" cy="181.30" r="1.20" fill="#1a4a78"/><text x="315.50" y="183.70" font-size="6.8" fill="#333" stroke="#333" stroke-width="0.12"><tspan font-style="italic">Il6</tspan><tspan dx="0.68" dy="-2.86" font-size="4.22" font-style="italic">fl/fl</tspan><tspan dy="2.86">+PBS</tspan></text><line x1="300.00" y1="190.20" x2="313.00" y2="190.20" stroke="#36a2db" stroke-width="0.9"/><circle cx="306.50" cy="190.20" r="1.20" fill="#2f9ad6"/><text x="315.50" y="192.60" font-size="6.8" fill="#333" stroke="#333" stroke-width="0.12"><tspan font-style="italic">Il6</tspan><tspan dx="0.68" dy="-2.86" font-size="4.22" font-style="italic">fl/fl</tspan><tspan dy="2.86">+Ara-C</tspan></text><line x1="300.00" y1="198.90" x2="313.00" y2="198.90" stroke="#4ca94f" stroke-width="0.9"/><circle cx="306.50" cy="198.90" r="1.20" fill="#3f9f45"/><text x="315.50" y="201.30" font-size="6.8" fill="#333" stroke="#333" stroke-width="0.12"><tspan font-style="italic">Il6</tspan><tspan dx="0.68" dy="-2.86" font-size="4.22" font-style="italic">fl/fl</tspan><tspan dy="2.86">+Ara-C+IACS</tspan></text><line x1="380.00" y1="178.70" x2="391.30" y2="178.70" stroke="#c67a48" stroke-width="0.9"/><circle cx="385.65" cy="178.70" r="1.20" fill="#c27040"/><text x="393.00" y="181.10" font-size="6.8" fill="#333" stroke="#333" stroke-width="0.12"><tspan font-style="italic">Il6</tspan><tspan dy="1.90" font-size="4.22" font-style="italic">Pmr1</tspan><tspan dy="-4.90" font-size="4.22" dx="1.02">−/−</tspan><tspan dy="2.99">+PBS</tspan></text><line x1="380.00" y1="188.50" x2="391.30" y2="188.50" stroke="#ec9428" stroke-width="0.9"/><circle cx="385.65" cy="188.50" r="1.20" fill="#ea8d1c"/><text x="393.00" y="190.90" font-size="6.8" fill="#333" stroke="#333" stroke-width="0.12"><tspan font-style="italic">Il6</tspan><tspan dy="1.90" font-size="4.22" font-style="italic">Pmr1</tspan><tspan dy="-4.90" font-size="4.22" dx="1.02">−/−</tspan><tspan dy="2.99">+Ara-C</tspan></text><line x1="380.00" y1="197.70" x2="391.30" y2="197.70" stroke="#f3c450" stroke-width="0.9"/><circle cx="385.65" cy="197.70" r="1.20" fill="#f2bf3c"/><text x="393.00" y="200.10" font-size="6.8" fill="#333" stroke="#333" stroke-width="0.12"><tspan font-style="italic">Il6</tspan><tspan dy="1.90" font-size="4.22" font-style="italic">Pmr1</tspan><tspan dy="-4.90" font-size="4.22" dx="1.02">−/−</tspan><tspan dy="2.99">+Ara-C+IL-6</tspan></text><path d="M35.9 267.6C37.8 267.6 44.8 268.0 47.5 267.6C50.2 267.2 50.4 266.4 51.9 265.2C53.4 264.0 54.9 260.7 56.2 260.4C57.6 260.1 58.4 264.1 60.0 263.3C61.6 262.5 64.0 256.2 65.8 255.6C67.6 255.0 69.1 258.0 70.6 259.4C72.0 260.8 73.2 262.8 74.5 264.2C75.8 265.6 74.5 267.0 78.3 267.6C88.0 268.2 123.4 267.6 132.4 267.6Z" fill="#ececec" fill-opacity="0.4"/><path d="M35.9 267.6C37.8 267.6 44.8 268.0 47.5 267.6C50.2 267.2 50.4 266.4 51.9 265.2C53.4 264.0 54.9 260.7 56.2 260.4C57.6 260.1 58.4 264.1 60.0 263.3C61.6 262.5 64.0 256.2 65.8 255.6C67.6 255.0 69.1 258.0 70.6 259.4C72.0 260.8 73.2 262.8 74.5 264.2C75.8 265.6 74.5 267.0 78.3 267.6C88.0 268.2 123.4 267.6 132.4 267.6" fill="none" stroke="#c4c4c4" stroke-width="0.9"/><path d="M35.9 283.2C46.5 283.2 88.1 283.5 99.6 283.2C105.0 282.9 103.3 282.4 105.0 281.6C106.7 280.8 108.4 279.9 109.6 278.5C110.8 277.1 111.6 276.0 112.3 273.5C113.0 271.0 113.3 266.1 113.8 263.5C114.3 260.9 114.8 258.1 115.4 257.8C116.0 257.6 116.8 260.3 117.3 262.0C117.8 263.7 117.6 266.3 118.1 268.2C118.6 270.1 119.6 271.6 120.4 273.5C121.2 275.4 121.8 278.1 122.7 279.7C123.6 281.3 124.2 282.6 125.8 283.2C127.4 283.8 131.3 283.2 132.4 283.2Z" fill="#d9e2eb" fill-opacity="0.4"/><path d="M35.9 283.2C46.5 283.2 88.1 283.5 99.6 283.2C105.0 282.9 103.3 282.4 105.0 281.6C106.7 280.8 108.4 279.9 109.6 278.5C110.8 277.1 111.6 276.0 112.3 273.5C113.0 271.0 113.3 266.1 113.8 263.5C114.3 260.9 114.8 258.1 115.4 257.8C116.0 257.6 116.8 260.3 117.3 262.0C117.8 263.7 117.6 266.3 118.1 268.2C118.6 270.1 119.6 271.6 120.4 273.5C121.2 275.4 121.8 278.1 122.7 279.7C123.6 281.3 124.2 282.6 125.8 283.2C127.4 283.8 131.3 283.2 132.4 283.2" fill="none" stroke="#46627f" stroke-width="0.9"/><path d="M35.9 298.5C46.1 298.5 86.0 298.5 97.3 298.3C103.5 298.1 101.6 297.8 103.5 297.3C105.4 296.8 107.3 296.3 108.8 295.4C110.3 294.5 111.6 293.2 112.7 291.9C113.8 290.5 114.6 289.4 115.4 287.3C116.2 285.2 117.1 282.0 117.7 279.6C118.3 277.2 118.8 274.1 119.2 272.7C119.6 271.3 119.6 270.2 120.0 271.5C120.4 272.8 121.1 277.2 121.5 280.4C121.9 283.5 121.9 287.7 122.3 290.4C122.7 293.1 123.1 295.1 123.8 296.5C124.5 297.9 125.1 298.2 126.5 298.5C127.9 298.8 131.4 298.5 132.4 298.5Z" fill="#d3eaf7" fill-opacity="0.4"/><path d="M35.9 298.5C46.1 298.5 86.0 298.5 97.3 298.3C103.5 298.1 101.6 297.8 103.5 297.3C105.4 296.8 107.3 296.3 108.8 295.4C110.3 294.5 111.6 293.2 112.7 291.9C113.8 290.5 114.6 289.4 115.4 287.3C116.2 285.2 117.1 282.0 117.7 279.6C118.3 277.2 118.8 274.1 119.2 272.7C119.6 271.3 119.6 270.2 120.0 271.5C120.4 272.8 121.1 277.2 121.5 280.4C121.9 283.5 121.9 287.7 122.3 290.4C122.7 293.1 123.1 295.1 123.8 296.5C124.5 297.9 125.1 298.2 126.5 298.5C127.9 298.8 131.4 298.5 132.4 298.5" fill="none" stroke="#55abdc" stroke-width="0.9"/><path d="M35.9 314.2C45.9 314.2 85.5 314.4 96.0 314.2C98.7 314.0 97.7 313.8 98.7 312.9C99.7 312.0 101.2 310.3 102.1 309.0C103.0 307.7 103.7 306.9 104.3 305.0C104.9 303.1 105.2 299.9 105.6 297.3C106.0 294.7 106.5 291.0 106.9 289.5C107.3 288.0 107.8 288.2 108.2 288.2C108.6 288.2 109.2 288.0 109.5 289.5C109.8 291.0 110.0 294.7 110.3 297.3C110.6 299.9 110.8 302.6 111.2 305.0C111.6 307.4 111.8 310.5 112.5 312.0C113.2 313.5 112.5 313.8 115.1 314.2C118.4 314.6 129.5 314.2 132.4 314.2Z" fill="#d8eed8" fill-opacity="0.4"/><path d="M35.9 314.2C45.9 314.2 85.5 314.4 96.0 314.2C98.7 314.0 97.7 313.8 98.7 312.9C99.7 312.0 101.2 310.3 102.1 309.0C103.0 307.7 103.7 306.9 104.3 305.0C104.9 303.1 105.2 299.9 105.6 297.3C106.0 294.7 106.5 291.0 106.9 289.5C107.3 288.0 107.8 288.2 108.2 288.2C108.6 288.2 109.2 288.0 109.5 289.5C109.8 291.0 110.0 294.7 110.3 297.3C110.6 299.9 110.8 302.6 111.2 305.0C111.6 307.4 111.8 310.5 112.5 312.0C113.2 313.5 112.5 313.8 115.1 314.2C118.4 314.6 129.5 314.2 132.4 314.2" fill="none" stroke="#66b16a" stroke-width="0.9"/><path d="M35.9 329.5C45.9 329.5 85.1 329.8 96.0 329.5C101.4 329.2 100.0 328.7 101.4 327.8C102.9 326.9 103.7 325.5 104.7 324.4C105.7 323.3 106.8 322.8 107.6 321.1C108.4 319.5 109.2 317.0 109.7 314.5C110.2 312.0 110.4 308.2 110.9 306.3C111.4 304.4 112.0 303.8 112.6 303.4C113.2 303.0 114.1 302.6 114.7 303.8C115.3 305.0 115.6 308.1 116.3 310.4C117.0 312.7 118.0 315.2 118.8 317.8C119.6 320.4 120.5 324.2 121.3 326.1C122.1 328.1 121.9 328.9 123.8 329.5C125.7 330.1 131.0 329.5 132.4 329.5Z" fill="#f3e3d8" fill-opacity="0.4"/><path d="M35.9 329.5C45.9 329.5 85.1 329.8 96.0 329.5C101.4 329.2 100.0 328.7 101.4 327.8C102.9 326.9 103.7 325.5 104.7 324.4C105.7 323.3 106.8 322.8 107.6 321.1C108.4 319.5 109.2 317.0 109.7 314.5C110.2 312.0 110.4 308.2 110.9 306.3C111.4 304.4 112.0 303.8 112.6 303.4C113.2 303.0 114.1 302.6 114.7 303.8C115.3 305.0 115.6 308.1 116.3 310.4C117.0 312.7 118.0 315.2 118.8 317.8C119.6 320.4 120.5 324.2 121.3 326.1C122.1 328.1 121.9 328.9 123.8 329.5C125.7 330.1 131.0 329.5 132.4 329.5" fill="none" stroke="#c8937a" stroke-width="0.9"/><path d="M35.9 344.7C45.8 344.7 84.7 344.9 95.0 344.7C97.5 344.4 96.6 345.4 97.5 343.2C98.4 341.0 99.4 334.7 100.6 331.7C101.8 328.7 103.6 327.6 104.7 325.2C105.8 322.8 106.6 318.1 107.2 317.2C107.8 316.3 108.1 317.6 108.5 319.7C108.9 321.8 109.2 325.9 109.7 329.7C110.2 333.5 111.2 340.2 111.8 342.7C112.3 345.2 111.8 344.4 113.0 344.7C116.4 345.0 129.2 344.7 132.4 344.7Z" fill="#fde7cc" fill-opacity="0.4"/><path d="M35.9 344.7C45.8 344.7 84.7 344.9 95.0 344.7C97.5 344.4 96.6 345.4 97.5 343.2C98.4 341.0 99.4 334.7 100.6 331.7C101.8 328.7 103.6 327.6 104.7 325.2C105.8 322.8 106.6 318.1 107.2 317.2C107.8 316.3 108.1 317.6 108.5 319.7C108.9 321.8 109.2 325.9 109.7 329.7C110.2 333.5 111.2 340.2 111.8 342.7C112.3 345.2 111.8 344.4 113.0 344.7C116.4 345.0 129.2 344.7 132.4 344.7" fill="none" stroke="#eca552" stroke-width="0.9"/><path d="M35.9 359.6C47.9 359.6 95.5 359.9 108.0 359.6C111.0 359.4 110.2 358.8 111.0 358.1C111.8 357.4 112.4 357.4 113.0 355.6C113.6 353.9 114.1 350.4 114.5 347.6C114.9 344.8 115.2 340.8 115.5 338.6C115.8 336.4 116.0 334.6 116.3 334.6C116.6 334.6 116.9 336.4 117.2 338.6C117.5 340.8 117.8 344.8 118.2 347.6C118.6 350.4 118.9 353.9 119.5 355.6C120.1 357.4 121.2 357.4 122.0 358.1C122.8 358.8 122.3 359.4 124.0 359.6C125.7 359.9 131.0 359.6 132.4 359.6Z" fill="#fdf3d9" fill-opacity="0.4"/><path d="M35.9 359.6C47.9 359.6 95.5 359.9 108.0 359.6C111.0 359.4 110.2 358.8 111.0 358.1C111.8 357.4 112.4 357.4 113.0 355.6C113.6 353.9 114.1 350.4 114.5 347.6C114.9 344.8 115.2 340.8 115.5 338.6C115.8 336.4 116.0 334.6 116.3 334.6C116.6 334.6 116.9 336.4 117.2 338.6C117.5 340.8 117.8 344.8 118.2 347.6C118.6 350.4 118.9 353.9 119.5 355.6C120.1 357.4 121.2 357.4 122.0 358.1C122.8 358.8 122.3 359.4 124.0 359.6C125.7 359.9 131.0 359.6 132.4 359.6" fill="none" stroke="#f2ca6c" stroke-width="0.9"/><text x="40.00" y="246.30" font-size="7.0" text-anchor="start" fill="#cfcfcf" font-weight="normal" font-style="normal" textLength="47.5" lengthAdjust="spacingAndGlyphs">Negative Control</text><text x="40.00" y="278.50" font-size="6.6" fill="#2b5688"><tspan font-style="italic">Il6</tspan><tspan dx="0.66" dy="-2.77" font-size="4.09" font-style="italic">fl/fl</tspan><tspan dy="2.77">+PBS</tspan></text><text x="40.00" y="293.80" font-size="6.6" fill="#4aa6dc"><tspan font-style="italic">Il6</tspan><tspan dx="0.66" dy="-2.77" font-size="4.09" font-style="italic">fl/fl</tspan><tspan dy="2.77">+Ara-C</tspan></text><text x="40.00" y="309.50" font-size="6.6" fill="#4ea952"><tspan font-style="italic">Il6</tspan><tspan dx="0.66" dy="-2.77" font-size="4.09" font-style="italic">fl/fl</tspan><tspan dy="2.77">+Ara-C+IACS</tspan></text><text x="40.00" y="324.80" font-size="6.6" fill="#d09a7c"><tspan font-style="italic">Il6</tspan><tspan dy="1.85" font-size="4.09" font-style="italic">Pmr1</tspan><tspan dy="-4.75" font-size="4.09" dx="2.31">−/−</tspan><tspan dy="2.90">+PBS</tspan></text><text x="40.00" y="340.00" font-size="6.6" fill="#f0a850"><tspan font-style="italic">Il6</tspan><tspan dy="1.85" font-size="4.09" font-style="italic">Pmr1</tspan><tspan dy="-4.75" font-size="4.09" dx="2.31">−/−</tspan><tspan dy="2.90">+Ara-C</tspan></text><text x="40.00" y="354.90" font-size="6.6" fill="#f4cf7c"><tspan font-style="italic">Il6</tspan><tspan dy="1.85" font-size="4.09" font-style="italic">Pmr1</tspan><tspan dy="-4.75" font-size="4.09" dx="2.31">−/−</tspan><tspan dy="2.90">+Ara-C+IL-6</tspan></text><rect x="35.90" y="237.00" width="96.50" height="122.60" fill="none" stroke="#222" stroke-width="1.3"/><line x1="34.20" y1="359.60" x2="34.20" y2="362.40" stroke="#222" stroke-width="1.0"/><line x1="38.84" y1="359.60" x2="38.84" y2="361.20" stroke="#222" stroke-width="0.7"/><line x1="41.55" y1="359.60" x2="41.55" y2="361.20" stroke="#222" stroke-width="0.7"/><line x1="43.47" y1="359.60" x2="43.47" y2="361.20" stroke="#222" stroke-width="0.7"/><line x1="44.96" y1="359.60" x2="44.96" y2="361.20" stroke="#222" stroke-width="0.7"/><line x1="46.18" y1="359.60" x2="46.18" y2="361.20" stroke="#222" stroke-width="0.7"/><line x1="47.21" y1="359.60" x2="47.21" y2="361.20" stroke="#222" stroke-width="0.7"/><line x1="48.11" y1="359.60" x2="48.11" y2="361.20" stroke="#222" stroke-width="0.7"/><line x1="48.90" y1="359.60" x2="48.90" y2="361.20" stroke="#222" stroke-width="0.7"/><text x="34.20" y="370.80" font-size="6.8" text-anchor="middle" fill="#333" stroke="#333" stroke-width="0.12">10<tspan dy="-2.6" font-size="4.6">−1</tspan></text><line x1="49.60" y1="359.60" x2="49.60" y2="362.40" stroke="#222" stroke-width="1.0"/><line x1="54.24" y1="359.60" x2="54.24" y2="361.20" stroke="#222" stroke-width="0.7"/><line x1="56.95" y1="359.60" x2="56.95" y2="361.20" stroke="#222" stroke-width="0.7"/><line x1="58.87" y1="359.60" x2="58.87" y2="361.20" stroke="#222" stroke-width="0.7"/><line x1="60.36" y1="359.60" x2="60.36" y2="361.20" stroke="#222" stroke-width="0.7"/><line x1="61.58" y1="359.60" x2="61.58" y2="361.20" stroke="#222" stroke-width="0.7"/><line x1="62.61" y1="359.60" x2="62.61" y2="361.20" stroke="#222" stroke-width="0.7"/><line x1="63.51" y1="359.60" x2="63.51" y2="361.20" stroke="#222" stroke-width="0.7"/><line x1="64.30" y1="359.60" x2="64.30" y2="361.20" stroke="#222" stroke-width="0.7"/><text x="49.60" y="370.80" font-size="6.8" text-anchor="middle" fill="#333" stroke="#333" stroke-width="0.12">10<tspan dy="-2.6" font-size="4.6">0</tspan></text><line x1="64.90" y1="359.60" x2="64.90" y2="362.40" stroke="#222" stroke-width="1.0"/><line x1="69.54" y1="359.60" x2="69.54" y2="361.20" stroke="#222" stroke-width="0.7"/><line x1="72.25" y1="359.60" x2="72.25" y2="361.20" stroke="#222" stroke-width="0.7"/><line x1="74.17" y1="359.60" x2="74.17" y2="361.20" stroke="#222" stroke-width="0.7"/><line x1="75.66" y1="359.60" x2="75.66" y2="361.20" stroke="#222" stroke-width="0.7"/><line x1="76.88" y1="359.60" x2="76.88" y2="361.20" stroke="#222" stroke-width="0.7"/><line x1="77.91" y1="359.60" x2="77.91" y2="361.20" stroke="#222" stroke-width="0.7"/><line x1="78.81" y1="359.60" x2="78.81" y2="361.20" stroke="#222" stroke-width="0.7"/><line x1="79.60" y1="359.60" x2="79.60" y2="361.20" stroke="#222" stroke-width="0.7"/><text x="64.90" y="370.80" font-size="6.8" text-anchor="middle" fill="#333" stroke="#333" stroke-width="0.12">10<tspan dy="-2.6" font-size="4.6">1</tspan></text><line x1="80.10" y1="359.60" x2="80.10" y2="362.40" stroke="#222" stroke-width="1.0"/><line x1="84.74" y1="359.60" x2="84.74" y2="361.20" stroke="#222" stroke-width="0.7"/><line x1="87.45" y1="359.60" x2="87.45" y2="361.20" stroke="#222" stroke-width="0.7"/><line x1="89.37" y1="359.60" x2="89.37" y2="361.20" stroke="#222" stroke-width="0.7"/><line x1="90.86" y1="359.60" x2="90.86" y2="361.20" stroke="#222" stroke-width="0.7"/><line x1="92.08" y1="359.60" x2="92.08" y2="361.20" stroke="#222" stroke-width="0.7"/><line x1="93.11" y1="359.60" x2="93.11" y2="361.20" stroke="#222" stroke-width="0.7"/><line x1="94.01" y1="359.60" x2="94.01" y2="361.20" stroke="#222" stroke-width="0.7"/><line x1="94.80" y1="359.60" x2="94.80" y2="361.20" stroke="#222" stroke-width="0.7"/><text x="80.10" y="370.80" font-size="6.8" text-anchor="middle" fill="#333" stroke="#333" stroke-width="0.12">10<tspan dy="-2.6" font-size="4.6">2</tspan></text><line x1="95.30" y1="359.60" x2="95.30" y2="362.40" stroke="#222" stroke-width="1.0"/><line x1="99.94" y1="359.60" x2="99.94" y2="361.20" stroke="#222" stroke-width="0.7"/><line x1="102.65" y1="359.60" x2="102.65" y2="361.20" stroke="#222" stroke-width="0.7"/><line x1="104.57" y1="359.60" x2="104.57" y2="361.20" stroke="#222" stroke-width="0.7"/><line x1="106.06" y1="359.60" x2="106.06" y2="361.20" stroke="#222" stroke-width="0.7"/><line x1="107.28" y1="359.60" x2="107.28" y2="361.20" stroke="#222" stroke-width="0.7"/><line x1="108.31" y1="359.60" x2="108.31" y2="361.20" stroke="#222" stroke-width="0.7"/><line x1="109.21" y1="359.60" x2="109.21" y2="361.20" stroke="#222" stroke-width="0.7"/><line x1="110.00" y1="359.60" x2="110.00" y2="361.20" stroke="#222" stroke-width="0.7"/><text x="95.30" y="370.80" font-size="6.8" text-anchor="middle" fill="#333" stroke="#333" stroke-width="0.12">10<tspan dy="-2.6" font-size="4.6">3</tspan></text><line x1="110.50" y1="359.60" x2="110.50" y2="362.40" stroke="#222" stroke-width="1.0"/><line x1="115.14" y1="359.60" x2="115.14" y2="361.20" stroke="#222" stroke-width="0.7"/><line x1="117.85" y1="359.60" x2="117.85" y2="361.20" stroke="#222" stroke-width="0.7"/><line x1="119.77" y1="359.60" x2="119.77" y2="361.20" stroke="#222" stroke-width="0.7"/><line x1="121.26" y1="359.60" x2="121.26" y2="361.20" stroke="#222" stroke-width="0.7"/><line x1="122.48" y1="359.60" x2="122.48" y2="361.20" stroke="#222" stroke-width="0.7"/><line x1="123.51" y1="359.60" x2="123.51" y2="361.20" stroke="#222" stroke-width="0.7"/><line x1="124.41" y1="359.60" x2="124.41" y2="361.20" stroke="#222" stroke-width="0.7"/><line x1="125.20" y1="359.60" x2="125.20" y2="361.20" stroke="#222" stroke-width="0.7"/><text x="110.50" y="370.80" font-size="6.8" text-anchor="middle" fill="#333" stroke="#333" stroke-width="0.12">10<tspan dy="-2.6" font-size="4.6">4</tspan></text><line x1="125.70" y1="359.60" x2="125.70" y2="362.40" stroke="#222" stroke-width="1.0"/><line x1="130.34" y1="359.60" x2="130.34" y2="361.20" stroke="#222" stroke-width="0.7"/><text x="125.70" y="370.80" font-size="6.8" text-anchor="middle" fill="#333" stroke="#333" stroke-width="0.12">10<tspan dy="-2.6" font-size="4.6">5</tspan></text><line x1="28.20" y1="377.20" x2="66.50" y2="377.20" stroke="#333" stroke-width="0.9"/><path d="M65.30 375.20L69.50 377.20L65.30 379.20Z" fill="#111"/><text x="74.00" y="380.00" font-size="7.8" text-anchor="start" fill="#333" font-weight="bold" font-style="normal" textLength="56.7" lengthAdjust="spacingAndGlyphs">MitoTracker deep red</text><text x="29.90" y="276.50" font-size="8.0" text-anchor="middle" fill="#333" font-weight="bold" font-style="normal" transform="rotate(-90 29.90 276.50)" textLength="53" lengthAdjust="spacingAndGlyphs" stroke="#333" stroke-width="0.15">Normalized to mode</text><line x1="26.00" y1="365.50" x2="26.00" y2="311.50" stroke="#333" stroke-width="0.9"/><path d="M24.00 312.70L26.00 308.50L28.00 312.70Z" fill="#111"/><path d="M291.0 262.7C292.4 262.7 297.4 262.8 299.6 262.5C301.8 262.2 302.8 262.0 304.2 260.8C305.6 259.6 306.9 256.6 308.1 255.4C309.3 254.2 310.5 254.9 311.5 253.8C312.5 252.6 313.4 248.2 314.2 248.5C315.0 248.8 315.6 253.3 316.5 255.4C317.4 257.4 318.6 259.6 319.6 260.8C320.6 262.0 319.6 262.4 322.7 262.7C333.9 263.0 376.0 262.7 386.7 262.7Z" fill="#ececec" fill-opacity="0.4"/><path d="M291.0 262.7C292.4 262.7 297.4 262.8 299.6 262.5C301.8 262.2 302.8 262.0 304.2 260.8C305.6 259.6 306.9 256.6 308.1 255.4C309.3 254.2 310.5 254.9 311.5 253.8C312.5 252.6 313.4 248.2 314.2 248.5C315.0 248.8 315.6 253.3 316.5 255.4C317.4 257.4 318.6 259.6 319.6 260.8C320.6 262.0 319.6 262.4 322.7 262.7C333.9 263.0 376.0 262.7 386.7 262.7" fill="none" stroke="#c4c4c4" stroke-width="0.9"/><path d="M291.0 278.5C300.1 278.5 336.0 278.9 345.8 278.5C350.0 278.1 348.9 277.2 350.0 276.3C351.1 275.4 351.8 274.8 352.5 273.2C353.2 271.6 353.9 269.3 354.5 266.5C355.1 263.7 355.5 259.1 356.0 256.5C356.5 253.9 357.1 251.6 357.5 251.1C357.9 250.6 358.2 252.6 358.7 253.5C359.1 254.4 359.5 254.6 360.2 256.3C360.9 258.0 362.1 261.5 363.0 263.6C363.9 265.7 364.5 266.7 365.5 268.8C366.5 270.9 367.8 274.4 368.8 276.0C369.8 277.6 368.8 278.1 371.7 278.5C374.7 278.9 384.2 278.5 386.7 278.5Z" fill="#d9e2eb" fill-opacity="0.4"/><path d="M291.0 278.5C300.1 278.5 336.0 278.9 345.8 278.5C350.0 278.1 348.9 277.2 350.0 276.3C351.1 275.4 351.8 274.8 352.5 273.2C353.2 271.6 353.9 269.3 354.5 266.5C355.1 263.7 355.5 259.1 356.0 256.5C356.5 253.9 357.1 251.6 357.5 251.1C357.9 250.6 358.2 252.6 358.7 253.5C359.1 254.4 359.5 254.6 360.2 256.3C360.9 258.0 362.1 261.5 363.0 263.6C363.9 265.7 364.5 266.7 365.5 268.8C366.5 270.9 367.8 274.4 368.8 276.0C369.8 277.6 368.8 278.1 371.7 278.5C374.7 278.9 384.2 278.5 386.7 278.5" fill="none" stroke="#46627f" stroke-width="0.9"/><path d="M291.0 294.1C299.2 294.1 330.9 294.2 340.0 294.1C345.8 294.0 344.2 294.2 345.8 293.6C347.4 293.0 348.5 291.8 349.6 290.7C350.7 289.6 351.4 288.5 352.5 286.8C353.6 285.1 355.0 282.4 355.9 280.6C356.8 278.8 357.2 276.2 357.8 275.8C358.4 275.4 358.6 277.6 359.2 278.2C359.8 278.8 360.8 280.0 361.6 279.2C362.4 278.4 363.2 275.5 364.0 273.4C364.8 271.3 365.7 267.0 366.4 266.7C367.1 266.4 367.8 269.4 368.4 271.5C369.0 273.6 369.4 277.3 369.8 279.2C370.2 281.1 370.2 281.7 370.8 283.0C371.4 284.3 372.4 285.4 373.7 286.8C375.0 288.2 377.1 290.0 378.5 291.2C379.9 292.4 380.9 293.6 382.3 294.1C383.7 294.6 386.0 294.1 386.7 294.1Z" fill="#d3eaf7" fill-opacity="0.4"/><path d="M291.0 294.1C299.2 294.1 330.9 294.2 340.0 294.1C345.8 294.0 344.2 294.2 345.8 293.6C347.4 293.0 348.5 291.8 349.6 290.7C350.7 289.6 351.4 288.5 352.5 286.8C353.6 285.1 355.0 282.4 355.9 280.6C356.8 278.8 357.2 276.2 357.8 275.8C358.4 275.4 358.6 277.6 359.2 278.2C359.8 278.8 360.8 280.0 361.6 279.2C362.4 278.4 363.2 275.5 364.0 273.4C364.8 271.3 365.7 267.0 366.4 266.7C367.1 266.4 367.8 269.4 368.4 271.5C369.0 273.6 369.4 277.3 369.8 279.2C370.2 281.1 370.2 281.7 370.8 283.0C371.4 284.3 372.4 285.4 373.7 286.8C375.0 288.2 377.1 290.0 378.5 291.2C379.9 292.4 380.9 293.6 382.3 294.1C383.7 294.6 386.0 294.1 386.7 294.1" fill="none" stroke="#55abdc" stroke-width="0.9"/><path d="M291.0 309.3C299.2 309.3 331.0 309.5 340.0 309.3C344.8 309.1 343.2 309.5 344.8 308.0C346.4 306.5 348.4 303.4 349.6 300.3C350.8 297.2 351.2 293.0 352.0 289.7C352.8 286.4 353.5 281.2 354.4 280.6C355.3 280.0 356.4 283.3 357.3 285.9C358.2 288.6 358.8 293.3 359.7 296.5C360.6 299.7 361.6 303.0 362.6 305.1C363.7 307.2 362.6 308.6 366.0 309.3C370.0 310.0 383.2 309.3 386.7 309.3Z" fill="#d8eed8" fill-opacity="0.4"/><path d="M291.0 309.3C299.2 309.3 331.0 309.5 340.0 309.3C344.8 309.1 343.2 309.5 344.8 308.0C346.4 306.5 348.4 303.4 349.6 300.3C350.8 297.2 351.2 293.0 352.0 289.7C352.8 286.4 353.5 281.2 354.4 280.6C355.3 280.0 356.4 283.3 357.3 285.9C358.2 288.6 358.8 293.3 359.7 296.5C360.6 299.7 361.6 303.0 362.6 305.1C363.7 307.2 362.6 308.6 366.0 309.3C370.0 310.0 383.2 309.3 386.7 309.3" fill="none" stroke="#66b16a" stroke-width="0.9"/><path d="M291.0 324.5C299.4 324.5 332.4 324.8 341.5 324.5C345.9 324.2 344.6 324.2 345.9 322.9C347.2 321.6 348.2 319.3 349.1 316.9C350.0 314.4 350.6 310.8 351.3 308.2C352.0 305.6 352.9 302.6 353.5 301.2C354.1 299.8 354.1 299.2 354.6 299.5C355.1 299.8 356.0 301.2 356.7 302.8C357.4 304.4 358.1 307.0 358.9 309.3C359.7 311.6 360.6 314.6 361.6 316.9C362.6 319.2 363.5 321.6 364.9 322.9C366.3 324.2 366.2 324.2 369.8 324.5C373.4 324.8 383.9 324.5 386.7 324.5Z" fill="#f3e3d8" fill-opacity="0.4"/><path d="M291.0 324.5C299.4 324.5 332.4 324.8 341.5 324.5C345.9 324.2 344.6 324.2 345.9 322.9C347.2 321.6 348.2 319.3 349.1 316.9C350.0 314.4 350.6 310.8 351.3 308.2C352.0 305.6 352.9 302.6 353.5 301.2C354.1 299.8 354.1 299.2 354.6 299.5C355.1 299.8 356.0 301.2 356.7 302.8C357.4 304.4 358.1 307.0 358.9 309.3C359.7 311.6 360.6 314.6 361.6 316.9C362.6 319.2 363.5 321.6 364.9 322.9C366.3 324.2 366.2 324.2 369.8 324.5C373.4 324.8 383.9 324.5 386.7 324.5" fill="none" stroke="#c8937a" stroke-width="0.9"/><path d="M291.0 340.1C298.5 340.1 327.6 340.4 336.0 340.1C341.5 339.8 339.9 339.9 341.5 338.5C343.1 337.1 344.7 334.9 345.9 332.0C347.1 329.1 347.9 324.3 348.6 321.1C349.3 317.9 349.8 314.5 350.2 312.9C350.6 311.3 350.7 310.3 351.3 311.3C351.9 312.3 353.2 316.2 354.0 318.9C354.8 321.6 355.5 324.9 356.2 327.6C356.9 330.3 357.5 333.3 358.4 335.2C359.3 337.1 360.6 338.2 361.6 339.0C362.6 339.8 361.6 339.9 364.3 340.1C368.5 340.3 383.0 340.1 386.7 340.1Z" fill="#fde7cc" fill-opacity="0.4"/><path d="M291.0 340.1C298.5 340.1 327.6 340.4 336.0 340.1C341.5 339.8 339.9 339.9 341.5 338.5C343.1 337.1 344.7 334.9 345.9 332.0C347.1 329.1 347.9 324.3 348.6 321.1C349.3 317.9 349.8 314.5 350.2 312.9C350.6 311.3 350.7 310.3 351.3 311.3C351.9 312.3 353.2 316.2 354.0 318.9C354.8 321.6 355.5 324.9 356.2 327.6C356.9 330.3 357.5 333.3 358.4 335.2C359.3 337.1 360.6 338.2 361.6 339.0C362.6 339.8 361.6 339.9 364.3 340.1C368.5 340.3 383.0 340.1 386.7 340.1" fill="none" stroke="#eca552" stroke-width="0.9"/><path d="M291.0 355.8C300.3 355.8 337.3 356.0 347.0 355.8C349.1 355.6 348.0 356.8 349.1 354.8C350.2 352.8 352.3 347.1 353.5 343.8C354.7 340.5 355.5 337.2 356.2 335.2C356.9 333.2 357.1 331.8 357.8 332.0C358.5 332.2 359.6 334.5 360.5 336.3C361.4 338.1 362.3 340.4 363.3 342.8C364.3 345.2 365.6 348.3 366.5 350.4C367.4 352.5 368.1 354.4 368.7 355.3C369.3 356.2 368.7 355.7 370.0 355.8C373.0 355.9 383.9 355.8 386.7 355.8Z" fill="#fdf3d9" fill-opacity="0.4"/><path d="M291.0 355.8C300.3 355.8 337.3 356.0 347.0 355.8C349.1 355.6 348.0 356.8 349.1 354.8C350.2 352.8 352.3 347.1 353.5 343.8C354.7 340.5 355.5 337.2 356.2 335.2C356.9 333.2 357.1 331.8 357.8 332.0C358.5 332.2 359.6 334.5 360.5 336.3C361.4 338.1 362.3 340.4 363.3 342.8C364.3 345.2 365.6 348.3 366.5 350.4C367.4 352.5 368.1 354.4 368.7 355.3C369.3 356.2 368.7 355.7 370.0 355.8C373.0 355.9 383.9 355.8 386.7 355.8" fill="none" stroke="#f2ca6c" stroke-width="0.9"/><text x="294.80" y="249.70" font-size="7.0" text-anchor="start" fill="#cfcfcf" font-weight="normal" font-style="normal" textLength="47.5" lengthAdjust="spacingAndGlyphs">Negative Control</text><text x="294.80" y="273.80" font-size="6.6" fill="#2b5688"><tspan font-style="italic">Il6</tspan><tspan dx="0.66" dy="-2.77" font-size="4.09" font-style="italic">fl/fl</tspan><tspan dy="2.77">+PBS</tspan></text><text x="294.80" y="289.40" font-size="6.6" fill="#4aa6dc"><tspan font-style="italic">Il6</tspan><tspan dx="0.66" dy="-2.77" font-size="4.09" font-style="italic">fl/fl</tspan><tspan dy="2.77">+Ara-C</tspan></text><text x="294.80" y="304.60" font-size="6.6" fill="#4ea952"><tspan font-style="italic">Il6</tspan><tspan dx="0.66" dy="-2.77" font-size="4.09" font-style="italic">fl/fl</tspan><tspan dy="2.77">+Ara-C+IACS</tspan></text><text x="294.80" y="319.80" font-size="6.6" fill="#d09a7c"><tspan font-style="italic">Il6</tspan><tspan dy="1.85" font-size="4.09" font-style="italic">Pmr1</tspan><tspan dy="-4.75" font-size="4.09" dx="2.31">−/−</tspan><tspan dy="2.90">+PBS</tspan></text><text x="294.80" y="335.40" font-size="6.6" fill="#f0a850"><tspan font-style="italic">Il6</tspan><tspan dy="1.85" font-size="4.09" font-style="italic">Pmr1</tspan><tspan dy="-4.75" font-size="4.09" dx="2.31">−/−</tspan><tspan dy="2.90">+Ara-C</tspan></text><text x="294.80" y="351.10" font-size="6.6" fill="#f4cf7c"><tspan font-style="italic">Il6</tspan><tspan dy="1.85" font-size="4.09" font-style="italic">Pmr1</tspan><tspan dy="-4.75" font-size="4.09" dx="2.31">−/−</tspan><tspan dy="2.90">+Ara-C+IL-6</tspan></text><rect x="291.00" y="232.70" width="95.70" height="123.10" fill="none" stroke="#222" stroke-width="1.3"/><line x1="290.40" y1="355.80" x2="290.40" y2="358.60" stroke="#222" stroke-width="1.0"/><line x1="298.83" y1="355.80" x2="298.83" y2="357.40" stroke="#222" stroke-width="0.7"/><line x1="303.76" y1="355.80" x2="303.76" y2="357.40" stroke="#222" stroke-width="0.7"/><line x1="307.26" y1="355.80" x2="307.26" y2="357.40" stroke="#222" stroke-width="0.7"/><line x1="309.97" y1="355.80" x2="309.97" y2="357.40" stroke="#222" stroke-width="0.7"/><line x1="312.19" y1="355.80" x2="312.19" y2="357.40" stroke="#222" stroke-width="0.7"/><line x1="314.06" y1="355.80" x2="314.06" y2="357.40" stroke="#222" stroke-width="0.7"/><line x1="315.69" y1="355.80" x2="315.69" y2="357.40" stroke="#222" stroke-width="0.7"/><line x1="317.12" y1="355.80" x2="317.12" y2="357.40" stroke="#222" stroke-width="0.7"/><text x="290.40" y="367.00" font-size="6.8" text-anchor="middle" fill="#333" stroke="#333" stroke-width="0.12">10<tspan dy="-2.6" font-size="4.6">1</tspan></text><line x1="318.40" y1="355.80" x2="318.40" y2="358.60" stroke="#222" stroke-width="1.0"/><line x1="326.83" y1="355.80" x2="326.83" y2="357.40" stroke="#222" stroke-width="0.7"/><line x1="331.76" y1="355.80" x2="331.76" y2="357.40" stroke="#222" stroke-width="0.7"/><line x1="335.26" y1="355.80" x2="335.26" y2="357.40" stroke="#222" stroke-width="0.7"/><line x1="337.97" y1="355.80" x2="337.97" y2="357.40" stroke="#222" stroke-width="0.7"/><line x1="340.19" y1="355.80" x2="340.19" y2="357.40" stroke="#222" stroke-width="0.7"/><line x1="342.06" y1="355.80" x2="342.06" y2="357.40" stroke="#222" stroke-width="0.7"/><line x1="343.69" y1="355.80" x2="343.69" y2="357.40" stroke="#222" stroke-width="0.7"/><line x1="345.12" y1="355.80" x2="345.12" y2="357.40" stroke="#222" stroke-width="0.7"/><text x="318.40" y="367.00" font-size="6.8" text-anchor="middle" fill="#333" stroke="#333" stroke-width="0.12">10<tspan dy="-2.6" font-size="4.6">2</tspan></text><line x1="346.40" y1="355.80" x2="346.40" y2="358.60" stroke="#222" stroke-width="1.0"/><line x1="354.83" y1="355.80" x2="354.83" y2="357.40" stroke="#222" stroke-width="0.7"/><line x1="359.76" y1="355.80" x2="359.76" y2="357.40" stroke="#222" stroke-width="0.7"/><line x1="363.26" y1="355.80" x2="363.26" y2="357.40" stroke="#222" stroke-width="0.7"/><line x1="365.97" y1="355.80" x2="365.97" y2="357.40" stroke="#222" stroke-width="0.7"/><line x1="368.19" y1="355.80" x2="368.19" y2="357.40" stroke="#222" stroke-width="0.7"/><line x1="370.06" y1="355.80" x2="370.06" y2="357.40" stroke="#222" stroke-width="0.7"/><line x1="371.69" y1="355.80" x2="371.69" y2="357.40" stroke="#222" stroke-width="0.7"/><line x1="373.12" y1="355.80" x2="373.12" y2="357.40" stroke="#222" stroke-width="0.7"/><text x="346.40" y="367.00" font-size="6.8" text-anchor="middle" fill="#333" stroke="#333" stroke-width="0.12">10<tspan dy="-2.6" font-size="4.6">3</tspan></text><line x1="374.40" y1="355.80" x2="374.40" y2="358.60" stroke="#222" stroke-width="1.0"/><line x1="382.83" y1="355.80" x2="382.83" y2="357.40" stroke="#222" stroke-width="0.7"/><text x="374.40" y="367.00" font-size="6.8" text-anchor="middle" fill="#333" stroke="#333" stroke-width="0.12">10<tspan dy="-2.6" font-size="4.6">4</tspan></text><line x1="289.00" y1="374.30" x2="361.50" y2="374.30" stroke="#333" stroke-width="0.9"/><path d="M360.30 372.30L364.50 374.30L360.30 376.30Z" fill="#111"/><text x="371.60" y="377.10" font-size="7.8" text-anchor="start" fill="#333" font-weight="bold" font-style="normal" textLength="17" lengthAdjust="spacingAndGlyphs">TMRM</text><text x="285.10" y="267.90" font-size="8.0" text-anchor="middle" fill="#333" font-weight="bold" font-style="normal" transform="rotate(-90 285.10 267.90)" textLength="52" lengthAdjust="spacingAndGlyphs" stroke="#333" stroke-width="0.15">Normalized to mode</text><line x1="282.00" y1="357.00" x2="282.00" y2="302.00" stroke="#333" stroke-width="0.9"/><path d="M280.00 303.20L282.00 299.00L284.00 303.20Z" fill="#111"/><path d="M163.4 449.8C166.8 449.8 179.8 451.4 184.0 449.8C188.2 448.2 187.4 444.3 188.7 440.3C190.0 436.3 190.9 428.6 191.6 425.8C192.3 423.0 192.4 423.1 193.0 423.3C193.6 423.5 194.3 424.0 195.2 426.8C196.0 429.6 197.0 436.7 198.1 440.3C199.2 443.9 200.7 446.7 201.7 448.3C202.7 449.9 201.7 449.6 204.0 449.8C214.1 450.1 252.3 449.8 262.0 449.8Z" fill="#ececec" fill-opacity="0.4"/><path d="M163.4 449.8C166.8 449.8 179.8 451.4 184.0 449.8C188.2 448.2 187.4 444.3 188.7 440.3C190.0 436.3 190.9 428.6 191.6 425.8C192.3 423.0 192.4 423.1 193.0 423.3C193.6 423.5 194.3 424.0 195.2 426.8C196.0 429.6 197.0 436.7 198.1 440.3C199.2 443.9 200.7 446.7 201.7 448.3C202.7 449.9 201.7 449.6 204.0 449.8C214.1 450.1 252.3 449.8 262.0 449.8" fill="none" stroke="#c4c4c4" stroke-width="0.9"/><path d="M163.4 465.6C168.0 465.6 185.4 466.0 190.9 465.6C196.4 465.2 194.8 464.6 196.6 463.5C198.4 462.4 200.2 460.4 201.7 459.1C203.1 457.8 204.3 455.9 205.3 455.5C206.3 455.1 206.7 456.3 207.5 456.7C208.3 457.1 209.5 457.7 210.4 457.7C211.3 457.8 212.1 457.2 213.2 457.0C214.3 456.8 215.7 457.9 216.8 456.2C217.9 454.5 218.8 449.7 219.7 446.9C220.5 444.1 221.3 441.1 221.9 439.6C222.5 438.2 222.7 437.8 223.3 438.2C223.9 438.6 224.8 440.1 225.5 441.8C226.2 443.5 226.8 446.4 227.7 448.3C228.5 450.2 229.6 451.7 230.6 453.4C231.6 455.1 232.3 456.7 233.4 458.4C234.5 460.1 235.4 462.3 237.0 463.5C238.6 464.7 238.6 465.2 242.8 465.6C247.0 466.0 258.8 465.6 262.0 465.6Z" fill="#d9e2eb" fill-opacity="0.4"/><path d="M163.4 465.6C168.0 465.6 185.4 466.0 190.9 465.6C196.4 465.2 194.8 464.6 196.6 463.5C198.4 462.4 200.2 460.4 201.7 459.1C203.1 457.8 204.3 455.9 205.3 455.5C206.3 455.1 206.7 456.3 207.5 456.7C208.3 457.1 209.5 457.7 210.4 457.7C211.3 457.8 212.1 457.2 213.2 457.0C214.3 456.8 215.7 457.9 216.8 456.2C217.9 454.5 218.8 449.7 219.7 446.9C220.5 444.1 221.3 441.1 221.9 439.6C222.5 438.2 222.7 437.8 223.3 438.2C223.9 438.6 224.8 440.1 225.5 441.8C226.2 443.5 226.8 446.4 227.7 448.3C228.5 450.2 229.6 451.7 230.6 453.4C231.6 455.1 232.3 456.7 233.4 458.4C234.5 460.1 235.4 462.3 237.0 463.5C238.6 464.7 238.6 465.2 242.8 465.6C247.0 466.0 258.8 465.6 262.0 465.6" fill="none" stroke="#46627f" stroke-width="0.9"/><path d="M163.4 481.2C167.0 481.2 180.2 481.5 185.0 481.2C189.8 480.9 190.5 480.4 192.5 479.4C194.5 478.4 195.7 476.6 196.9 475.0C198.2 473.4 199.1 471.1 200.0 470.0C200.9 468.9 201.6 467.9 202.5 468.1C203.4 468.3 204.5 469.9 205.6 471.2C206.7 472.4 207.4 474.4 208.8 475.6C210.2 476.7 211.9 477.4 213.8 478.1C215.7 478.8 218.3 480.3 220.0 480.0C221.7 479.7 222.8 478.5 223.8 476.2C224.9 473.9 225.5 469.5 226.3 466.2C227.1 462.9 228.1 458.2 228.8 456.2C229.5 454.2 229.9 454.0 230.6 454.4C231.3 454.8 232.4 456.5 233.1 458.8C233.8 461.1 234.3 465.3 235.0 468.1C235.7 470.9 236.2 473.6 237.5 475.6C238.8 477.6 240.8 479.1 242.5 480.0C244.2 480.9 244.2 481.0 247.5 481.2C250.8 481.4 259.6 481.2 262.0 481.2Z" fill="#d3eaf7" fill-opacity="0.4"/><path d="M163.4 481.2C167.0 481.2 180.2 481.5 185.0 481.2C189.8 480.9 190.5 480.4 192.5 479.4C194.5 478.4 195.7 476.6 196.9 475.0C198.2 473.4 199.1 471.1 200.0 470.0C200.9 468.9 201.6 467.9 202.5 468.1C203.4 468.3 204.5 469.9 205.6 471.2C206.7 472.4 207.4 474.4 208.8 475.6C210.2 476.7 211.9 477.4 213.8 478.1C215.7 478.8 218.3 480.3 220.0 480.0C221.7 479.7 222.8 478.5 223.8 476.2C224.9 473.9 225.5 469.5 226.3 466.2C227.1 462.9 228.1 458.2 228.8 456.2C229.5 454.2 229.9 454.0 230.6 454.4C231.3 454.8 232.4 456.5 233.1 458.8C233.8 461.1 234.3 465.3 235.0 468.1C235.7 470.9 236.2 473.6 237.5 475.6C238.8 477.6 240.8 479.1 242.5 480.0C244.2 480.9 244.2 481.0 247.5 481.2C250.8 481.4 259.6 481.2 262.0 481.2" fill="none" stroke="#55abdc" stroke-width="0.9"/><path d="M163.4 496.2C167.5 496.2 183.4 496.6 188.0 496.2C191.2 495.8 189.9 495.2 191.2 493.8C192.5 492.4 194.4 490.0 195.6 487.5C196.8 485.0 197.3 481.7 198.1 478.8C198.9 475.9 200.0 471.6 200.6 470.0C201.2 468.4 201.4 468.1 201.9 469.4C202.4 470.6 203.1 474.3 203.8 477.5C204.5 480.7 205.3 486.0 206.3 488.8C207.3 491.6 208.1 493.3 210.0 494.4C211.9 495.5 215.0 495.6 217.5 495.6C220.0 495.6 222.9 495.1 225.0 494.4C227.1 493.7 228.3 491.4 230.0 491.2C231.7 491.0 232.9 492.4 235.0 493.1C237.1 493.8 240.4 495.1 242.5 495.6C244.6 496.1 244.2 496.1 247.5 496.2C250.8 496.3 259.6 496.2 262.0 496.2Z" fill="#d8eed8" fill-opacity="0.4"/><path d="M163.4 496.2C167.5 496.2 183.4 496.6 188.0 496.2C191.2 495.8 189.9 495.2 191.2 493.8C192.5 492.4 194.4 490.0 195.6 487.5C196.8 485.0 197.3 481.7 198.1 478.8C198.9 475.9 200.0 471.6 200.6 470.0C201.2 468.4 201.4 468.1 201.9 469.4C202.4 470.6 203.1 474.3 203.8 477.5C204.5 480.7 205.3 486.0 206.3 488.8C207.3 491.6 208.1 493.3 210.0 494.4C211.9 495.5 215.0 495.6 217.5 495.6C220.0 495.6 222.9 495.1 225.0 494.4C227.1 493.7 228.3 491.4 230.0 491.2C231.7 491.0 232.9 492.4 235.0 493.1C237.1 493.8 240.4 495.1 242.5 495.6C244.6 496.1 244.2 496.1 247.5 496.2C250.8 496.3 259.6 496.2 262.0 496.2" fill="none" stroke="#66b16a" stroke-width="0.9"/><path d="M163.4 511.6C167.2 511.6 181.7 511.7 186.0 511.6C189.4 511.5 187.9 512.2 189.4 511.0C190.9 509.8 193.2 507.1 194.8 504.2C196.4 501.3 197.6 496.4 198.8 493.5C200.0 490.6 201.3 488.1 202.2 486.6C203.1 485.1 203.5 484.1 204.2 484.6C204.9 485.1 205.4 486.8 206.2 489.6C207.0 492.4 207.7 498.3 208.9 501.5C210.1 504.7 211.7 507.3 213.6 508.9C215.5 510.5 218.4 511.7 220.4 511.0C222.4 510.3 224.4 507.2 225.8 504.9C227.2 502.7 228.2 499.1 229.1 497.5C230.0 495.9 230.3 494.9 231.1 495.5C231.9 496.1 232.8 498.8 233.8 500.9C234.8 503.0 235.6 506.5 237.2 508.3C238.8 510.1 239.2 511.1 243.3 511.6C247.4 512.1 258.9 511.6 262.0 511.6Z" fill="#f3e3d8" fill-opacity="0.4"/><path d="M163.4 511.6C167.2 511.6 181.7 511.7 186.0 511.6C189.4 511.5 187.9 512.2 189.4 511.0C190.9 509.8 193.2 507.1 194.8 504.2C196.4 501.3 197.6 496.4 198.8 493.5C200.0 490.6 201.3 488.1 202.2 486.6C203.1 485.1 203.5 484.1 204.2 484.6C204.9 485.1 205.4 486.8 206.2 489.6C207.0 492.4 207.7 498.3 208.9 501.5C210.1 504.7 211.7 507.3 213.6 508.9C215.5 510.5 218.4 511.7 220.4 511.0C222.4 510.3 224.4 507.2 225.8 504.9C227.2 502.7 228.2 499.1 229.1 497.5C230.0 495.9 230.3 494.9 231.1 495.5C231.9 496.1 232.8 498.8 233.8 500.9C234.8 503.0 235.6 506.5 237.2 508.3C238.8 510.1 239.2 511.1 243.3 511.6C247.4 512.1 258.9 511.6 262.0 511.6" fill="none" stroke="#c8937a" stroke-width="0.9"/><path d="M163.4 527.3C165.5 527.3 173.2 527.5 176.0 527.3C178.8 527.1 178.0 528.3 180.0 526.3C182.0 524.3 185.8 518.5 188.0 515.3C190.2 512.1 191.9 509.8 193.5 507.3C195.1 504.8 196.5 501.6 197.5 500.3C198.5 499.0 198.9 498.8 199.5 499.3C200.1 499.8 200.4 500.2 201.0 503.3C201.6 506.4 201.9 514.1 202.9 517.7C203.9 521.3 205.0 523.4 207.0 525.0C209.0 526.6 212.8 527.0 215.0 527.1C217.2 527.2 218.7 526.4 220.0 525.8C221.3 525.2 221.8 523.7 223.0 523.7C224.2 523.7 225.5 525.2 227.0 525.8C228.5 526.4 227.0 527.0 232.0 527.3C237.8 527.5 257.0 527.3 262.0 527.3Z" fill="#fde7cc" fill-opacity="0.4"/><path d="M163.4 527.3C165.5 527.3 173.2 527.5 176.0 527.3C178.8 527.1 178.0 528.3 180.0 526.3C182.0 524.3 185.8 518.5 188.0 515.3C190.2 512.1 191.9 509.8 193.5 507.3C195.1 504.8 196.5 501.6 197.5 500.3C198.5 499.0 198.9 498.8 199.5 499.3C200.1 499.8 200.4 500.2 201.0 503.3C201.6 506.4 201.9 514.1 202.9 517.7C203.9 521.3 205.0 523.4 207.0 525.0C209.0 526.6 212.8 527.0 215.0 527.1C217.2 527.2 218.7 526.4 220.0 525.8C221.3 525.2 221.8 523.7 223.0 523.7C224.2 523.7 225.5 525.2 227.0 525.8C228.5 526.4 227.0 527.0 232.0 527.3C237.8 527.5 257.0 527.3 262.0 527.3" fill="none" stroke="#eca552" stroke-width="0.9"/><path d="M163.4 542.6C167.8 542.6 185.0 543.2 190.0 542.6C193.5 542.0 191.8 541.1 193.5 539.2C195.2 537.3 198.4 533.5 200.2 531.0C202.0 528.5 202.8 524.0 204.2 524.4C205.5 524.8 206.5 531.1 208.3 533.2C210.1 535.3 213.0 536.4 215.0 537.2C217.0 538.0 218.8 538.0 220.4 537.9C222.0 537.8 223.3 538.1 224.4 536.5C225.5 534.9 225.9 532.0 227.1 528.5C228.3 525.0 230.5 516.2 231.8 515.7C233.2 515.2 234.0 522.3 235.2 525.8C236.4 529.3 237.8 533.8 239.2 536.5C240.5 539.2 242.2 541.0 243.3 542.0C244.4 543.0 243.3 542.5 246.0 542.6C249.1 542.7 259.3 542.6 262.0 542.6Z" fill="#fdf3d9" fill-opacity="0.4"/><path d="M163.4 542.6C167.8 542.6 185.0 543.2 190.0 542.6C193.5 542.0 191.8 541.1 193.5 539.2C195.2 537.3 198.4 533.5 200.2 531.0C202.0 528.5 202.8 524.0 204.2 524.4C205.5 524.8 206.5 531.1 208.3 533.2C210.1 535.3 213.0 536.4 215.0 537.2C217.0 538.0 218.8 538.0 220.4 537.9C222.0 537.8 223.3 538.1 224.4 536.5C225.5 534.9 225.9 532.0 227.1 528.5C228.3 525.0 230.5 516.2 231.8 515.7C233.2 515.2 234.0 522.3 235.2 525.8C236.4 529.3 237.8 533.8 239.2 536.5C240.5 539.2 242.2 541.0 243.3 542.0C244.4 543.0 243.3 542.5 246.0 542.6C249.1 542.7 259.3 542.6 262.0 542.6" fill="none" stroke="#f2ca6c" stroke-width="0.9"/><text x="166.60" y="433.70" font-size="7.0" text-anchor="start" fill="#cfcfcf" font-weight="normal" font-style="normal" textLength="47.5" lengthAdjust="spacingAndGlyphs">Negative Control</text><text x="166.60" y="460.90" font-size="6.6" fill="#2b5688"><tspan font-style="italic">Il6</tspan><tspan dx="0.66" dy="-2.77" font-size="4.09" font-style="italic">fl/fl</tspan><tspan dy="2.77">+PBS</tspan></text><text x="166.60" y="476.50" font-size="6.6" fill="#4aa6dc"><tspan font-style="italic">Il6</tspan><tspan dx="0.66" dy="-2.77" font-size="4.09" font-style="italic">fl/fl</tspan><tspan dy="2.77">+Ara-C</tspan></text><text x="166.60" y="491.50" font-size="6.6" fill="#4ea952"><tspan font-style="italic">Il6</tspan><tspan dx="0.66" dy="-2.77" font-size="4.09" font-style="italic">fl/fl</tspan><tspan dy="2.77">+Ara-C+IACS</tspan></text><text x="166.60" y="506.90" font-size="6.6" fill="#d09a7c"><tspan font-style="italic">Il6</tspan><tspan dy="1.85" font-size="4.09" font-style="italic">Pmr1</tspan><tspan dy="-4.75" font-size="4.09" dx="2.31">−/−</tspan><tspan dy="2.90">+PBS</tspan></text><text x="166.60" y="522.60" font-size="6.6" fill="#f0a850"><tspan font-style="italic">Il6</tspan><tspan dy="1.85" font-size="4.09" font-style="italic">Pmr1</tspan><tspan dy="-4.75" font-size="4.09" dx="2.31">−/−</tspan><tspan dy="2.90">+Ara-C</tspan></text><text x="166.60" y="537.90" font-size="6.6" fill="#f4cf7c"><tspan font-style="italic">Il6</tspan><tspan dy="1.85" font-size="4.09" font-style="italic">Pmr1</tspan><tspan dy="-4.75" font-size="4.09" dx="2.31">−/−</tspan><tspan dy="2.90">+Ara-C+IL-6</tspan></text><rect x="163.40" y="420.40" width="98.60" height="122.20" fill="none" stroke="#222" stroke-width="1.3"/><line x1="162.70" y1="542.60" x2="162.70" y2="545.40" stroke="#222" stroke-width="1.0"/><line x1="170.32" y1="542.60" x2="170.32" y2="544.20" stroke="#222" stroke-width="0.7"/><line x1="174.77" y1="542.60" x2="174.77" y2="544.20" stroke="#222" stroke-width="0.7"/><line x1="177.93" y1="542.60" x2="177.93" y2="544.20" stroke="#222" stroke-width="0.7"/><line x1="180.38" y1="542.60" x2="180.38" y2="544.20" stroke="#222" stroke-width="0.7"/><line x1="182.39" y1="542.60" x2="182.39" y2="544.20" stroke="#222" stroke-width="0.7"/><line x1="184.08" y1="542.60" x2="184.08" y2="544.20" stroke="#222" stroke-width="0.7"/><line x1="185.55" y1="542.60" x2="185.55" y2="544.20" stroke="#222" stroke-width="0.7"/><line x1="186.84" y1="542.60" x2="186.84" y2="544.20" stroke="#222" stroke-width="0.7"/><text x="162.70" y="555.00" font-size="6.8" text-anchor="middle" fill="#333" stroke="#333" stroke-width="0.12">10<tspan dy="-2.6" font-size="4.6">1</tspan></text><line x1="188.00" y1="542.60" x2="188.00" y2="545.40" stroke="#222" stroke-width="1.0"/><line x1="195.62" y1="542.60" x2="195.62" y2="544.20" stroke="#222" stroke-width="0.7"/><line x1="200.07" y1="542.60" x2="200.07" y2="544.20" stroke="#222" stroke-width="0.7"/><line x1="203.23" y1="542.60" x2="203.23" y2="544.20" stroke="#222" stroke-width="0.7"/><line x1="205.68" y1="542.60" x2="205.68" y2="544.20" stroke="#222" stroke-width="0.7"/><line x1="207.69" y1="542.60" x2="207.69" y2="544.20" stroke="#222" stroke-width="0.7"/><line x1="209.38" y1="542.60" x2="209.38" y2="544.20" stroke="#222" stroke-width="0.7"/><line x1="210.85" y1="542.60" x2="210.85" y2="544.20" stroke="#222" stroke-width="0.7"/><line x1="212.14" y1="542.60" x2="212.14" y2="544.20" stroke="#222" stroke-width="0.7"/><text x="188.00" y="555.00" font-size="6.8" text-anchor="middle" fill="#333" stroke="#333" stroke-width="0.12">10<tspan dy="-2.6" font-size="4.6">2</tspan></text><line x1="213.30" y1="542.60" x2="213.30" y2="545.40" stroke="#222" stroke-width="1.0"/><line x1="220.92" y1="542.60" x2="220.92" y2="544.20" stroke="#222" stroke-width="0.7"/><line x1="225.37" y1="542.60" x2="225.37" y2="544.20" stroke="#222" stroke-width="0.7"/><line x1="228.53" y1="542.60" x2="228.53" y2="544.20" stroke="#222" stroke-width="0.7"/><line x1="230.98" y1="542.60" x2="230.98" y2="544.20" stroke="#222" stroke-width="0.7"/><line x1="232.99" y1="542.60" x2="232.99" y2="544.20" stroke="#222" stroke-width="0.7"/><line x1="234.68" y1="542.60" x2="234.68" y2="544.20" stroke="#222" stroke-width="0.7"/><line x1="236.15" y1="542.60" x2="236.15" y2="544.20" stroke="#222" stroke-width="0.7"/><line x1="237.44" y1="542.60" x2="237.44" y2="544.20" stroke="#222" stroke-width="0.7"/><text x="213.30" y="555.00" font-size="6.8" text-anchor="middle" fill="#333" stroke="#333" stroke-width="0.12">10<tspan dy="-2.6" font-size="4.6">3</tspan></text><line x1="238.60" y1="542.60" x2="238.60" y2="545.40" stroke="#222" stroke-width="1.0"/><line x1="246.22" y1="542.60" x2="246.22" y2="544.20" stroke="#222" stroke-width="0.7"/><line x1="250.67" y1="542.60" x2="250.67" y2="544.20" stroke="#222" stroke-width="0.7"/><line x1="253.83" y1="542.60" x2="253.83" y2="544.20" stroke="#222" stroke-width="0.7"/><line x1="256.28" y1="542.60" x2="256.28" y2="544.20" stroke="#222" stroke-width="0.7"/><line x1="258.29" y1="542.60" x2="258.29" y2="544.20" stroke="#222" stroke-width="0.7"/><line x1="259.98" y1="542.60" x2="259.98" y2="544.20" stroke="#222" stroke-width="0.7"/><line x1="261.45" y1="542.60" x2="261.45" y2="544.20" stroke="#222" stroke-width="0.7"/><text x="238.60" y="555.00" font-size="6.8" text-anchor="middle" fill="#333" stroke="#333" stroke-width="0.12">10<tspan dy="-2.6" font-size="4.6">4</tspan></text><line x1="162.70" y1="562.00" x2="231.50" y2="562.00" stroke="#333" stroke-width="0.9"/><path d="M230.30 560.00L234.50 562.00L230.30 564.00Z" fill="#111"/><text x="240.00" y="564.80" font-size="7.8" text-anchor="start" fill="#333" font-weight="bold" font-style="normal" textLength="23" lengthAdjust="spacingAndGlyphs">MitoSOX</text><text x="157.80" y="457.50" font-size="8.0" text-anchor="middle" fill="#333" font-weight="bold" font-style="normal" transform="rotate(-90 157.80 457.50)" textLength="56" lengthAdjust="spacingAndGlyphs" stroke="#333" stroke-width="0.15">Normalized to mode</text><line x1="155.80" y1="545.80" x2="155.80" y2="492.50" stroke="#333" stroke-width="0.9"/><path d="M153.80 493.70L155.80 489.50L157.80 493.70Z" fill="#111"/><rect x="178.40" y="292.00" width="7.80" height="39.60" fill="#b4c7dc"/><rect x="190.40" y="281.00" width="7.80" height="50.60" fill="#b9dcf1"/><rect x="202.60" y="318.00" width="7.80" height="13.60" fill="#c0e0bf"/><rect x="214.60" y="303.50" width="7.80" height="28.10" fill="#eccfbf"/><rect x="226.60" y="322.50" width="7.80" height="9.10" fill="#fdd8a8"/><rect x="238.70" y="288.00" width="7.80" height="43.60" fill="#fdefd6"/><path d="M180.90 288.00H183.70M182.30 288.00V296.00M180.90 296.00H183.70" stroke="#1a4a78" stroke-width="0.8" fill="none"/><circle cx="182.00" cy="286.90" r="1.75" fill="#1a4a78"/><circle cx="178.50" cy="292.30" r="1.75" fill="#1a4a78"/><circle cx="184.50" cy="291.50" r="1.75" fill="#1a4a78"/><circle cx="178.50" cy="296.90" r="1.75" fill="#1a4a78"/><circle cx="184.50" cy="296.20" r="1.75" fill="#1a4a78"/><path d="M192.90 275.00H195.70M194.30 275.00V287.00M192.90 287.00H195.70" stroke="#2f9ad6" stroke-width="0.8" fill="none"/><rect x="192.75" y="270.55" width="3.50" height="3.50" fill="#2f9ad6"/><rect x="192.75" y="275.65" width="3.50" height="3.50" fill="#2f9ad6"/><rect x="189.05" y="279.75" width="3.50" height="3.50" fill="#2f9ad6"/><rect x="196.05" y="282.45" width="3.50" height="3.50" fill="#2f9ad6"/><rect x="189.05" y="284.45" width="3.50" height="3.50" fill="#2f9ad6"/><path d="M205.10 314.00H207.90M206.50 314.00V322.00M205.10 322.00H207.90" stroke="#3f9f45" stroke-width="0.8" fill="none"/><path d="M206.60 311.70L208.61 315.29L204.59 315.29Z" fill="#3f9f45"/><path d="M204.50 314.80L206.51 318.39L202.49 318.39Z" fill="#3f9f45"/><path d="M206.60 318.70L208.61 322.29L204.59 322.29Z" fill="#3f9f45"/><path d="M203.50 318.70L205.51 322.29L201.49 322.29Z" fill="#3f9f45"/><path d="M209.00 319.40L211.01 322.99L206.99 322.99Z" fill="#3f9f45"/><path d="M217.10 301.00H219.90M218.50 301.00V306.00M217.10 306.00H219.90" stroke="#c27040" stroke-width="0.8" fill="none"/><path d="M216.50 303.60L218.51 300.01L214.49 300.01Z" fill="#c27040"/><path d="M221.00 303.60L223.01 300.01L218.99 300.01Z" fill="#c27040"/><path d="M219.00 305.90L221.01 302.31L216.99 302.31Z" fill="#c27040"/><path d="M216.00 308.30L218.01 304.71L213.99 304.71Z" fill="#c27040"/><path d="M221.00 308.30L223.01 304.71L218.99 304.71Z" fill="#c27040"/><path d="M229.10 320.50H231.90M230.50 320.50V324.50M229.10 324.50H231.90" stroke="#ea8d1c" stroke-width="0.8" fill="none"/><circle cx="233.50" cy="319.20" r="1.75" fill="#ea8d1c"/><circle cx="229.00" cy="322.30" r="1.75" fill="#ea8d1c"/><circle cx="233.00" cy="323.80" r="1.75" fill="#ea8d1c"/><circle cx="230.00" cy="324.60" r="1.75" fill="#ea8d1c"/><circle cx="235.00" cy="323.00" r="1.75" fill="#ea8d1c"/><path d="M241.20 278.00H244.00M242.60 278.00V298.00M241.20 298.00H244.00" stroke="#f2bf3c" stroke-width="0.8" fill="none"/><circle cx="242.50" cy="272.80" r="1.7" fill="none" stroke="#f2c25a" stroke-width="0.75"/><circle cx="240.00" cy="289.20" r="1.7" fill="none" stroke="#f2c25a" stroke-width="0.75"/><circle cx="245.50" cy="288.50" r="1.7" fill="none" stroke="#f2c25a" stroke-width="0.75"/><circle cx="242.50" cy="285.40" r="1.7" fill="none" stroke="#f2c25a" stroke-width="0.75"/><circle cx="242.00" cy="294.60" r="1.7" fill="none" stroke="#f2c25a" stroke-width="0.75"/><circle cx="243.00" cy="298.50" r="1.7" fill="none" stroke="#f2c25a" stroke-width="0.75"/><line x1="174.00" y1="254.20" x2="174.00" y2="332.20" stroke="#222" stroke-width="1.3"/><line x1="173.40" y1="331.60" x2="252.00" y2="331.60" stroke="#222" stroke-width="1.3"/><line x1="171.00" y1="331.60" x2="174.00" y2="331.60" stroke="#222" stroke-width="1.1"/><text x="168.80" y="334.00" font-size="6.8" text-anchor="end" fill="#333" font-weight="normal" font-style="normal" stroke="#333" stroke-width="0.15">0</text><line x1="171.00" y1="312.40" x2="174.00" y2="312.40" stroke="#222" stroke-width="1.1"/><text x="168.80" y="314.80" font-size="6.8" text-anchor="end" fill="#333" font-weight="normal" font-style="normal" stroke="#333" stroke-width="0.15">10</text><line x1="171.00" y1="293.20" x2="174.00" y2="293.20" stroke="#222" stroke-width="1.1"/><text x="168.80" y="295.60" font-size="6.8" text-anchor="end" fill="#333" font-weight="normal" font-style="normal" stroke="#333" stroke-width="0.15">20</text><line x1="171.00" y1="274.00" x2="174.00" y2="274.00" stroke="#222" stroke-width="1.1"/><text x="168.80" y="276.40" font-size="6.8" text-anchor="end" fill="#333" font-weight="normal" font-style="normal" stroke="#333" stroke-width="0.15">30</text><line x1="171.00" y1="254.80" x2="174.00" y2="254.80" stroke="#222" stroke-width="1.1"/><text x="168.80" y="257.20" font-size="6.8" text-anchor="end" fill="#333" font-weight="normal" font-style="normal" stroke="#333" stroke-width="0.15">40</text><line x1="182.30" y1="331.60" x2="182.30" y2="334.40" stroke="#222" stroke-width="1.1"/><line x1="194.30" y1="331.60" x2="194.30" y2="334.40" stroke="#222" stroke-width="1.1"/><line x1="206.50" y1="331.60" x2="206.50" y2="334.40" stroke="#222" stroke-width="1.1"/><line x1="218.50" y1="331.60" x2="218.50" y2="334.40" stroke="#222" stroke-width="1.1"/><line x1="230.50" y1="331.60" x2="230.50" y2="334.40" stroke="#222" stroke-width="1.1"/><line x1="242.60" y1="331.60" x2="242.60" y2="334.40" stroke="#222" stroke-width="1.1"/><text x="154.9" y="292.0" font-size="8.2" text-anchor="middle" fill="#222" stroke="#222" stroke-width="0.3" font-weight="bold" transform="rotate(-90 154.9 292.0)" textLength="62" lengthAdjust="spacingAndGlyphs">MitoTracker MFI (×10<tspan dy="-2.2" font-size="4.8">3</tspan><tspan dy="2.2">)</tspan></text><path d="M182.00 254.20V237.30H218.90V241.60" fill="none" stroke="#3a3a3a" stroke-width="1"/><g fill="#333"><circle cx="200.45" cy="233.70" r="0.8"/></g><path d="M193.80 255.00V250.40H230.00V255.00" fill="none" stroke="#3a3a3a" stroke-width="1"/><g fill="#333"><circle cx="208.00" cy="246.80" r="0.8"/><circle cx="210.60" cy="246.80" r="0.8"/><circle cx="213.20" cy="246.80" r="0.8"/><circle cx="215.80" cy="246.80" r="0.8"/></g><path d="M232.30 255.00V250.40H242.60V267.30" fill="none" stroke="#3a3a3a" stroke-width="1"/><g fill="#333"><circle cx="233.55" cy="246.80" r="0.8"/><circle cx="236.15" cy="246.80" r="0.8"/><circle cx="238.75" cy="246.80" r="0.8"/><circle cx="241.35" cy="246.80" r="0.8"/></g><path d="M182.30 285.80V263.50H193.00V267.30" fill="none" stroke="#3a3a3a" stroke-width="1"/><g fill="#333"><circle cx="187.65" cy="259.90" r="0.8"/></g><path d="M195.40 267.30V263.50H206.60V311.00" fill="none" stroke="#3a3a3a" stroke-width="1"/><g fill="#333"><circle cx="197.10" cy="259.90" r="0.8"/><circle cx="199.70" cy="259.90" r="0.8"/><circle cx="202.30" cy="259.90" r="0.8"/><circle cx="204.90" cy="259.90" r="0.8"/></g><path d="M218.50 299.60V263.50H230.50V318.00" fill="none" stroke="#3a3a3a" stroke-width="1"/><g fill="#333"><circle cx="221.90" cy="259.90" r="0.8"/><circle cx="224.50" cy="259.90" r="0.8"/><circle cx="227.10" cy="259.90" r="0.8"/></g><text x="185.90" y="344.60" font-size="7.1" text-anchor="end" fill="#333" stroke="#333" stroke-width="0.15" transform="rotate(-45 185.90 344.60)"><tspan font-style="italic">Il6</tspan><tspan dx="0.71" dy="-2.98" font-size="3.91" font-style="italic">fl/fl</tspan><tspan dy="2.98">+PBS</tspan></text><text x="197.90" y="344.60" font-size="7.1" text-anchor="end" fill="#333" stroke="#333" stroke-width="0.15" transform="rotate(-45 197.90 344.60)"><tspan font-style="italic">Il6</tspan><tspan dx="0.71" dy="-2.98" font-size="3.91" font-style="italic">fl/fl</tspan><tspan dy="2.98">+Ara-C</tspan></text><text x="210.10" y="344.60" font-size="7.1" text-anchor="end" fill="#333" stroke="#333" stroke-width="0.15" transform="rotate(-45 210.10 344.60)"><tspan font-style="italic">Il6</tspan><tspan dx="0.71" dy="-2.98" font-size="3.91" font-style="italic">fl/fl</tspan><tspan dy="2.98">+Ara-C+IACS</tspan></text><text x="222.10" y="344.60" font-size="7.1" text-anchor="end" fill="#333" stroke="#333" stroke-width="0.15" transform="rotate(-45 222.10 344.60)"><tspan font-style="italic">Il6</tspan><tspan dy="1.99" font-size="3.91" font-style="italic">Pmr1</tspan><tspan dy="-5.11" font-size="3.91" dx="0.35">−/−</tspan><tspan dy="3.12">+PBS</tspan></text><text x="234.10" y="344.60" font-size="7.1" text-anchor="end" fill="#333" stroke="#333" stroke-width="0.15" transform="rotate(-45 234.10 344.60)"><tspan font-style="italic">Il6</tspan><tspan dy="1.99" font-size="3.91" font-style="italic">Pmr1</tspan><tspan dy="-5.11" font-size="3.91" dx="0.35">−/−</tspan><tspan dy="3.12">+Ara-C</tspan></text><text x="246.20" y="344.60" font-size="7.1" text-anchor="end" fill="#333" stroke="#333" stroke-width="0.15" transform="rotate(-45 246.20 344.60)"><tspan font-style="italic">Il6</tspan><tspan dy="1.99" font-size="3.91" font-style="italic">Pmr1</tspan><tspan dy="-5.11" font-size="3.91" dx="0.35">−/−</tspan><tspan dy="3.12">+Ara-C+IL-6</tspan></text><rect x="440.10" y="287.50" width="7.80" height="37.90" fill="#b4c7dc"/><rect x="452.40" y="280.00" width="7.80" height="45.40" fill="#b9dcf1"/><rect x="464.60" y="298.50" width="7.80" height="26.90" fill="#c0e0bf"/><rect x="476.60" y="295.40" width="7.80" height="30.00" fill="#eccfbf"/><rect x="488.60" y="304.60" width="7.80" height="20.80" fill="#fdd8a8"/><rect x="500.70" y="292.50" width="7.80" height="32.90" fill="#fdefd6"/><path d="M442.60 283.50H445.40M444.00 283.50V291.50M442.60 291.50H445.40" stroke="#1a4a78" stroke-width="0.8" fill="none"/><circle cx="444.50" cy="284.20" r="1.75" fill="#1a4a78"/><circle cx="440.50" cy="285.70" r="1.75" fill="#1a4a78"/><circle cx="448.00" cy="286.50" r="1.75" fill="#1a4a78"/><circle cx="442.50" cy="290.30" r="1.75" fill="#1a4a78"/><circle cx="447.50" cy="289.50" r="1.75" fill="#1a4a78"/><circle cx="444.50" cy="291.80" r="1.75" fill="#1a4a78"/><path d="M454.90 270.00H457.70M456.30 270.00V290.00M454.90 290.00H457.70" stroke="#2f9ad6" stroke-width="0.8" fill="none"/><rect x="454.85" y="262.45" width="3.50" height="3.50" fill="#2f9ad6"/><rect x="453.25" y="277.75" width="3.50" height="3.50" fill="#2f9ad6"/><rect x="457.25" y="277.05" width="3.50" height="3.50" fill="#2f9ad6"/><rect x="452.25" y="279.25" width="3.50" height="3.50" fill="#2f9ad6"/><rect x="456.25" y="279.25" width="3.50" height="3.50" fill="#2f9ad6"/><path d="M467.10 295.50H469.90M468.50 295.50V301.50M467.10 301.50H469.90" stroke="#3f9f45" stroke-width="0.8" fill="none"/><path d="M468.50 294.40L470.51 297.99L466.49 297.99Z" fill="#3f9f45"/><path d="M466.50 297.40L468.51 300.99L464.49 300.99Z" fill="#3f9f45"/><path d="M470.50 297.40L472.51 300.99L468.49 300.99Z" fill="#3f9f45"/><path d="M468.50 299.90L470.51 303.49L466.49 303.49Z" fill="#3f9f45"/><path d="M479.10 293.90H481.90M480.50 293.90V296.90M479.10 296.90H481.90" stroke="#c27040" stroke-width="0.8" fill="none"/><path d="M478.50 296.70L480.51 293.11L476.49 293.11Z" fill="#c27040"/><path d="M482.50 296.70L484.51 293.11L480.49 293.11Z" fill="#c27040"/><path d="M480.50 297.60L482.51 294.01L478.49 294.01Z" fill="#c27040"/><path d="M491.10 303.10H493.90M492.50 303.10V306.10M491.10 306.10H493.90" stroke="#ea8d1c" stroke-width="0.8" fill="none"/><circle cx="490.50" cy="303.80" r="1.75" fill="#ea8d1c"/><circle cx="494.50" cy="303.80" r="1.75" fill="#ea8d1c"/><circle cx="492.50" cy="305.00" r="1.75" fill="#ea8d1c"/><path d="M503.20 284.50H506.00M504.60 284.50V300.50M503.20 300.50H506.00" stroke="#f2bf3c" stroke-width="0.8" fill="none"/><circle cx="505.00" cy="282.60" r="1.7" fill="none" stroke="#f2c25a" stroke-width="0.75"/><circle cx="503.00" cy="285.70" r="1.7" fill="none" stroke="#f2c25a" stroke-width="0.75"/><circle cx="507.00" cy="286.50" r="1.7" fill="none" stroke="#f2c25a" stroke-width="0.75"/><circle cx="504.00" cy="289.50" r="1.7" fill="none" stroke="#f2c25a" stroke-width="0.75"/><circle cx="506.00" cy="291.80" r="1.7" fill="none" stroke="#f2c25a" stroke-width="0.75"/><circle cx="504.50" cy="295.00" r="1.7" fill="none" stroke="#f2c25a" stroke-width="0.75"/><line x1="436.30" y1="248.30" x2="436.30" y2="326.00" stroke="#222" stroke-width="1.3"/><line x1="435.70" y1="325.40" x2="513.00" y2="325.40" stroke="#222" stroke-width="1.3"/><line x1="433.30" y1="325.40" x2="436.30" y2="325.40" stroke="#222" stroke-width="1.1"/><text x="429.30" y="327.80" font-size="6.8" text-anchor="end" fill="#333" font-weight="normal" font-style="normal" stroke="#333" stroke-width="0.15">0</text><line x1="433.30" y1="310.10" x2="436.30" y2="310.10" stroke="#222" stroke-width="1.1"/><text x="429.30" y="312.50" font-size="6.8" text-anchor="end" fill="#333" font-weight="normal" font-style="normal" stroke="#333" stroke-width="0.15">1000</text><line x1="433.30" y1="294.80" x2="436.30" y2="294.80" stroke="#222" stroke-width="1.1"/><text x="429.30" y="297.20" font-size="6.8" text-anchor="end" fill="#333" font-weight="normal" font-style="normal" stroke="#333" stroke-width="0.15">2000</text><line x1="433.30" y1="279.50" x2="436.30" y2="279.50" stroke="#222" stroke-width="1.1"/><text x="429.30" y="281.90" font-size="6.8" text-anchor="end" fill="#333" font-weight="normal" font-style="normal" stroke="#333" stroke-width="0.15">3000</text><line x1="433.30" y1="264.20" x2="436.30" y2="264.20" stroke="#222" stroke-width="1.1"/><text x="429.30" y="266.60" font-size="6.8" text-anchor="end" fill="#333" font-weight="normal" font-style="normal" stroke="#333" stroke-width="0.15">4000</text><line x1="433.30" y1="248.90" x2="436.30" y2="248.90" stroke="#222" stroke-width="1.1"/><text x="429.30" y="251.30" font-size="6.8" text-anchor="end" fill="#333" font-weight="normal" font-style="normal" stroke="#333" stroke-width="0.15">5000</text><line x1="444.00" y1="325.40" x2="444.00" y2="328.20" stroke="#222" stroke-width="1.1"/><line x1="456.30" y1="325.40" x2="456.30" y2="328.20" stroke="#222" stroke-width="1.1"/><line x1="468.50" y1="325.40" x2="468.50" y2="328.20" stroke="#222" stroke-width="1.1"/><line x1="480.50" y1="325.40" x2="480.50" y2="328.20" stroke="#222" stroke-width="1.1"/><line x1="492.50" y1="325.40" x2="492.50" y2="328.20" stroke="#222" stroke-width="1.1"/><line x1="504.60" y1="325.40" x2="504.60" y2="328.20" stroke="#222" stroke-width="1.1"/><text x="409.8" y="285.3" font-size="8.2" text-anchor="middle" fill="#222" stroke="#222" stroke-width="0.3" font-weight="bold" transform="rotate(-90 409.8 285.3)" textLength="30" lengthAdjust="spacingAndGlyphs">TMRM MFI</text><path d="M444.30 233.40V229.10H481.20V233.40" fill="none" stroke="#3a3a3a" stroke-width="1"/><g fill="#333"><circle cx="462.75" cy="225.50" r="0.8"/></g><path d="M444.30 278.80V242.60H455.40V247.20" fill="none" stroke="#3a3a3a" stroke-width="1"/><g fill="#333"><circle cx="448.55" cy="239.00" r="0.8"/><circle cx="451.15" cy="239.00" r="0.8"/></g><path d="M457.40 247.20V242.60H493.50V247.20" fill="none" stroke="#3a3a3a" stroke-width="1"/><g fill="#333"><circle cx="471.55" cy="239.00" r="0.8"/><circle cx="474.15" cy="239.00" r="0.8"/><circle cx="476.75" cy="239.00" r="0.8"/><circle cx="479.35" cy="239.00" r="0.8"/></g><path d="M456.60 260.30V255.70H468.60V291.50" fill="none" stroke="#3a3a3a" stroke-width="1"/><g fill="#333"><circle cx="458.70" cy="252.10" r="0.8"/><circle cx="461.30" cy="252.10" r="0.8"/><circle cx="463.90" cy="252.10" r="0.8"/><circle cx="466.50" cy="252.10" r="0.8"/></g><path d="M481.00 290.80V255.70H490.90V299.20" fill="none" stroke="#3a3a3a" stroke-width="1"/><g fill="#333"><circle cx="485.95" cy="252.10" r="0.8"/></g><path d="M494.30 298.50V255.70H504.60V278.80" fill="none" stroke="#3a3a3a" stroke-width="1"/><g fill="#333"><circle cx="496.85" cy="252.10" r="0.8"/><circle cx="499.45" cy="252.10" r="0.8"/><circle cx="502.05" cy="252.10" r="0.8"/></g><text x="447.00" y="337.00" font-size="6.7" text-anchor="end" fill="#333" stroke="#333" stroke-width="0.15" transform="rotate(-45 447.00 337.00)"><tspan font-style="italic">Il6</tspan><tspan dx="0.67" dy="-2.81" font-size="3.69" font-style="italic">fl/fl</tspan><tspan dy="2.81">+PBS</tspan></text><text x="459.30" y="337.00" font-size="6.7" text-anchor="end" fill="#333" stroke="#333" stroke-width="0.15" transform="rotate(-45 459.30 337.00)"><tspan font-style="italic">Il6</tspan><tspan dx="0.67" dy="-2.81" font-size="3.69" font-style="italic">fl/fl</tspan><tspan dy="2.81">+Ara-C</tspan></text><text x="471.50" y="337.00" font-size="6.7" text-anchor="end" fill="#333" stroke="#333" stroke-width="0.15" transform="rotate(-45 471.50 337.00)"><tspan font-style="italic">Il6</tspan><tspan dx="0.67" dy="-2.81" font-size="3.69" font-style="italic">fl/fl</tspan><tspan dy="2.81">+Ara-C+IACS</tspan></text><text x="483.50" y="337.00" font-size="6.7" text-anchor="end" fill="#333" stroke="#333" stroke-width="0.15" transform="rotate(-45 483.50 337.00)"><tspan font-style="italic">Il6</tspan><tspan dy="1.88" font-size="3.69" font-style="italic">Pmr1</tspan><tspan dy="-4.82" font-size="3.69" dx="0.34">−/−</tspan><tspan dy="2.95">+PBS</tspan></text><text x="495.50" y="337.00" font-size="6.7" text-anchor="end" fill="#333" stroke="#333" stroke-width="0.15" transform="rotate(-45 495.50 337.00)"><tspan font-style="italic">Il6</tspan><tspan dy="1.88" font-size="3.69" font-style="italic">Pmr1</tspan><tspan dy="-4.82" font-size="3.69" dx="0.34">−/−</tspan><tspan dy="2.95">+Ara-C</tspan></text><text x="507.60" y="337.00" font-size="6.7" text-anchor="end" fill="#333" stroke="#333" stroke-width="0.15" transform="rotate(-45 507.60 337.00)"><tspan font-style="italic">Il6</tspan><tspan dy="1.88" font-size="3.69" font-style="italic">Pmr1</tspan><tspan dy="-4.82" font-size="3.69" dx="0.34">−/−</tspan><tspan dy="2.95">+Ara-C+IL-6</tspan></text><rect x="313.70" y="499.50" width="7.80" height="19.70" fill="#b4c7dc"/><rect x="325.70" y="466.60" width="7.80" height="52.60" fill="#b9dcf1"/><rect x="337.70" y="515.50" width="7.80" height="3.70" fill="#c0e0bf"/><rect x="350.00" y="510.30" width="7.80" height="8.90" fill="#eccfbf"/><rect x="362.30" y="516.50" width="7.80" height="2.70" fill="#fdd8a8"/><rect x="374.60" y="502.30" width="7.80" height="16.90" fill="#fdefd6"/><path d="M316.20 492.50H319.00M317.60 492.50V506.50M316.20 506.50H319.00" stroke="#1a4a78" stroke-width="0.8" fill="none"/><circle cx="317.60" cy="489.20" r="1.75" fill="#1a4a78"/><circle cx="313.00" cy="498.50" r="1.75" fill="#1a4a78"/><circle cx="322.00" cy="496.90" r="1.75" fill="#1a4a78"/><circle cx="317.60" cy="500.80" r="1.75" fill="#1a4a78"/><circle cx="313.00" cy="505.40" r="1.75" fill="#1a4a78"/><circle cx="322.00" cy="503.80" r="1.75" fill="#1a4a78"/><path d="M328.20 456.60H331.00M329.60 456.60V476.60M328.20 476.60H331.00" stroke="#2f9ad6" stroke-width="0.8" fill="none"/><rect x="328.25" y="447.75" width="3.50" height="3.50" fill="#2f9ad6"/><rect x="325.75" y="467.15" width="3.50" height="3.50" fill="#2f9ad6"/><rect x="331.25" y="465.95" width="3.50" height="3.50" fill="#2f9ad6"/><rect x="331.25" y="469.75" width="3.50" height="3.50" fill="#2f9ad6"/><rect x="327.85" y="473.65" width="3.50" height="3.50" fill="#2f9ad6"/><path d="M340.20 514.50H343.00M341.60 514.50V516.50M340.20 516.50H343.00" stroke="#3f9f45" stroke-width="0.8" fill="none"/><path d="M339.60 513.30L341.61 516.89L337.59 516.89Z" fill="#3f9f45"/><path d="M343.60 513.30L345.61 516.89L341.59 516.89Z" fill="#3f9f45"/><path d="M341.60 511.90L343.61 515.49L339.59 515.49Z" fill="#3f9f45"/><path d="M352.50 509.30H355.30M353.90 509.30V511.30M352.50 511.30H355.30" stroke="#c27040" stroke-width="0.8" fill="none"/><path d="M351.90 512.90L353.91 509.31L349.89 509.31Z" fill="#c27040"/><path d="M355.90 512.90L357.91 509.31L353.89 509.31Z" fill="#c27040"/><path d="M353.90 513.60L355.91 510.01L351.89 510.01Z" fill="#c27040"/><path d="M364.80 515.50H367.60M366.20 515.50V517.50M364.80 517.50H367.60" stroke="#ea8d1c" stroke-width="0.8" fill="none"/><circle cx="364.20" cy="517.00" r="1.75" fill="#ea8d1c"/><circle cx="368.20" cy="517.00" r="1.75" fill="#ea8d1c"/><circle cx="366.20" cy="516.50" r="1.75" fill="#ea8d1c"/><path d="M377.10 497.30H379.90M378.50 497.30V507.30M377.10 507.30H379.90" stroke="#f2bf3c" stroke-width="0.8" fill="none"/><circle cx="378.50" cy="494.20" r="1.7" fill="none" stroke="#f2c25a" stroke-width="0.75"/><circle cx="375.00" cy="505.80" r="1.7" fill="none" stroke="#f2c25a" stroke-width="0.75"/><circle cx="381.00" cy="504.60" r="1.7" fill="none" stroke="#f2c25a" stroke-width="0.75"/><circle cx="378.50" cy="507.70" r="1.7" fill="none" stroke="#f2c25a" stroke-width="0.75"/><line x1="309.50" y1="440.30" x2="309.50" y2="519.80" stroke="#222" stroke-width="1.3"/><line x1="308.90" y1="519.20" x2="387.70" y2="519.20" stroke="#222" stroke-width="1.3"/><line x1="306.50" y1="519.20" x2="309.50" y2="519.20" stroke="#222" stroke-width="1.1"/><text x="303.30" y="521.60" font-size="6.8" text-anchor="end" fill="#333" font-weight="normal" font-style="normal" stroke="#333" stroke-width="0.15">0</text><line x1="306.50" y1="493.50" x2="309.50" y2="493.50" stroke="#222" stroke-width="1.1"/><text x="303.30" y="495.90" font-size="6.8" text-anchor="end" fill="#333" font-weight="normal" font-style="normal" stroke="#333" stroke-width="0.15">2000</text><line x1="306.50" y1="467.80" x2="309.50" y2="467.80" stroke="#222" stroke-width="1.1"/><text x="303.30" y="470.20" font-size="6.8" text-anchor="end" fill="#333" font-weight="normal" font-style="normal" stroke="#333" stroke-width="0.15">4000</text><line x1="306.50" y1="442.10" x2="309.50" y2="442.10" stroke="#222" stroke-width="1.1"/><text x="303.30" y="444.50" font-size="6.8" text-anchor="end" fill="#333" font-weight="normal" font-style="normal" stroke="#333" stroke-width="0.15">6000</text><line x1="317.60" y1="519.20" x2="317.60" y2="522.00" stroke="#222" stroke-width="1.1"/><line x1="329.60" y1="519.20" x2="329.60" y2="522.00" stroke="#222" stroke-width="1.1"/><line x1="341.60" y1="519.20" x2="341.60" y2="522.00" stroke="#222" stroke-width="1.1"/><line x1="353.90" y1="519.20" x2="353.90" y2="522.00" stroke="#222" stroke-width="1.1"/><line x1="366.20" y1="519.20" x2="366.20" y2="522.00" stroke="#222" stroke-width="1.1"/><line x1="378.50" y1="519.20" x2="378.50" y2="522.00" stroke="#222" stroke-width="1.1"/><text x="282.2" y="479.0" font-size="8.2" text-anchor="middle" fill="#222" stroke="#222" stroke-width="0.3" font-weight="bold" transform="rotate(-90 282.2 479.0)" textLength="35" lengthAdjust="spacingAndGlyphs">MitoSOX MFI</text><path d="M317.30 415.70V412.00H354.50V415.70" fill="none" stroke="#3a3a3a" stroke-width="1"/><g fill="#333"><circle cx="334.60" cy="408.40" r="0.8"/><circle cx="337.20" cy="408.40" r="0.8"/></g><path d="M317.60 483.80V424.30H328.80V432.60" fill="none" stroke="#3a3a3a" stroke-width="1"/><g fill="#333"><circle cx="319.30" cy="420.70" r="0.8"/><circle cx="321.90" cy="420.70" r="0.8"/><circle cx="324.50" cy="420.70" r="0.8"/><circle cx="327.10" cy="420.70" r="0.8"/></g><path d="M331.20 432.60V424.30H366.60V473.00" fill="none" stroke="#3a3a3a" stroke-width="1"/><g fill="#333"><circle cx="345.00" cy="420.70" r="0.8"/><circle cx="347.60" cy="420.70" r="0.8"/><circle cx="350.20" cy="420.70" r="0.8"/><circle cx="352.80" cy="420.70" r="0.8"/></g><path d="M329.30 445.40V441.20H341.70V513.00" fill="none" stroke="#3a3a3a" stroke-width="1"/><g fill="#333"><circle cx="331.60" cy="437.60" r="0.8"/><circle cx="334.20" cy="437.60" r="0.8"/><circle cx="336.80" cy="437.60" r="0.8"/><circle cx="339.40" cy="437.60" r="0.8"/></g><path d="M353.90 504.60V483.40H365.80V512.30" fill="none" stroke="#3a3a3a" stroke-width="1"/><text x="359.85" y="481.80" font-size="5.8" text-anchor="middle" fill="#3a3a3a" font-weight="normal" font-style="normal">ns.</text><path d="M368.10 512.30V483.40H378.50V489.20" fill="none" stroke="#3a3a3a" stroke-width="1"/><g fill="#333"><circle cx="372.00" cy="479.80" r="0.8"/><circle cx="374.60" cy="479.80" r="0.8"/></g><text x="321.20" y="527.50" font-size="6.9" text-anchor="end" fill="#333" stroke="#333" stroke-width="0.15" transform="rotate(-45 321.20 527.50)"><tspan font-style="italic">Il6</tspan><tspan dx="0.69" dy="-2.90" font-size="3.80" font-style="italic">fl/fl</tspan><tspan dy="2.90">+PBS</tspan></text><text x="333.20" y="527.50" font-size="6.9" text-anchor="end" fill="#333" stroke="#333" stroke-width="0.15" transform="rotate(-45 333.20 527.50)"><tspan font-style="italic">Il6</tspan><tspan dx="0.69" dy="-2.90" font-size="3.80" font-style="italic">fl/fl</tspan><tspan dy="2.90">+Ara-C</tspan></text><text x="345.20" y="527.50" font-size="6.9" text-anchor="end" fill="#333" stroke="#333" stroke-width="0.15" transform="rotate(-45 345.20 527.50)"><tspan font-style="italic">Il6</tspan><tspan dx="0.69" dy="-2.90" font-size="3.80" font-style="italic">fl/fl</tspan><tspan dy="2.90">+Ara-C+IACS</tspan></text><text x="357.50" y="527.50" font-size="6.9" text-anchor="end" fill="#333" stroke="#333" stroke-width="0.15" transform="rotate(-45 357.50 527.50)"><tspan font-style="italic">Il6</tspan><tspan dy="1.93" font-size="3.80" font-style="italic">Pmr1</tspan><tspan dy="-4.97" font-size="3.80" dx="0.35">−/−</tspan><tspan dy="3.04">+PBS</tspan></text><text x="369.80" y="527.50" font-size="6.9" text-anchor="end" fill="#333" stroke="#333" stroke-width="0.15" transform="rotate(-45 369.80 527.50)"><tspan font-style="italic">Il6</tspan><tspan dy="1.93" font-size="3.80" font-style="italic">Pmr1</tspan><tspan dy="-4.97" font-size="3.80" dx="0.35">−/−</tspan><tspan dy="3.04">+Ara-C</tspan></text><text x="382.10" y="527.50" font-size="6.9" text-anchor="end" fill="#333" stroke="#333" stroke-width="0.15" transform="rotate(-45 382.10 527.50)"><tspan font-style="italic">Il6</tspan><tspan dy="1.93" font-size="3.80" font-style="italic">Pmr1</tspan><tspan dy="-4.97" font-size="3.80" dx="0.35">−/−</tspan><tspan dy="3.04">+Ara-C+IL-6</tspan></text><rect x="0.00" y="0.00" width="520.00" height="1.00" fill="#3a3a3a"/><rect x="0.00" y="0.00" width="1.00" height="580.00" fill="#3a3a3a"/><rect x="518.60" y="0.00" width="1.40" height="580.00" fill="#3a3a3a"/><rect x="0.00" y="578.60" width="520.00" height="1.40" fill="#3a3a3a"/></svg>
</body></html>
